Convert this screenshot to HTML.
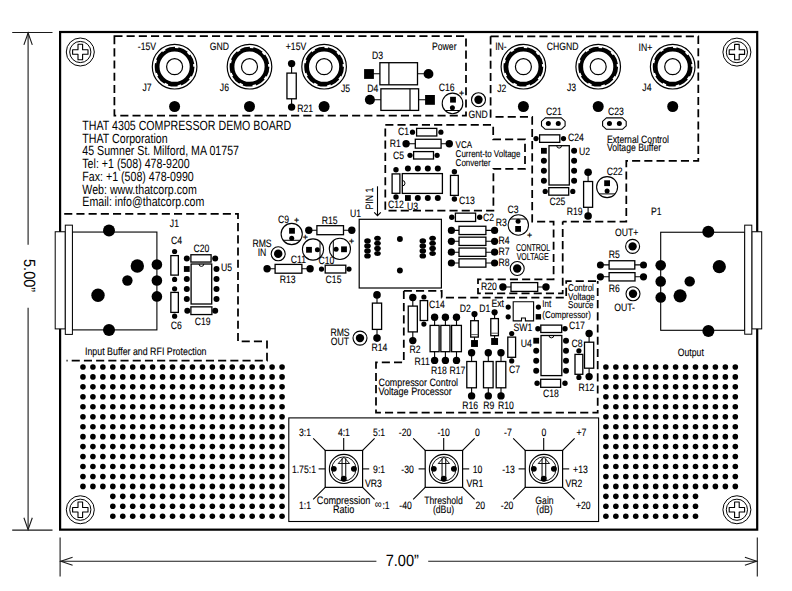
<!DOCTYPE html>
<html><head><meta charset="utf-8"><title>THAT 4305 Compressor Demo Board</title>
<style>
html,body{margin:0;padding:0;background:#fff;}
svg{display:block;font-family:"Liberation Sans",Arial,sans-serif;text-rendering:geometricPrecision;}
</style></head><body>
<svg width="792" height="591" viewBox="0 0 792 591">
<rect width="792" height="591" fill="#fff"/>
<rect x="60.1" y="32.0" width="697.1" height="497.65" fill="#fff" stroke="#000" stroke-width="2.2"/>
<line x1="28.10" y1="33.00" x2="28.10" y2="244.80" stroke="#1a1a1a" stroke-width="1.1"/>
<line x1="28.10" y1="307.70" x2="28.10" y2="529.50" stroke="#1a1a1a" stroke-width="1.1"/>
<line x1="12.20" y1="32.50" x2="52.50" y2="32.50" stroke="#1a1a1a" stroke-width="1.1"/>
<line x1="12.20" y1="530.10" x2="52.50" y2="530.10" stroke="#1a1a1a" stroke-width="1.1"/>
<path d="M23.9,44.9 L28.1,33 L32.3,44.9 M23.9,517.8 L28.1,529.6 L32.3,517.8" fill="none" stroke="#1a1a1a" stroke-width="1.1"/>
<line x1="60.10" y1="537.40" x2="60.10" y2="576.60" stroke="#1a1a1a" stroke-width="1.1"/>
<line x1="757.30" y1="537.40" x2="757.30" y2="576.60" stroke="#1a1a1a" stroke-width="1.1"/>
<line x1="60.20" y1="561.20" x2="376.40" y2="561.20" stroke="#1a1a1a" stroke-width="1.1"/>
<line x1="428.20" y1="561.20" x2="757.30" y2="561.20" stroke="#1a1a1a" stroke-width="1.1"/>
<path d="M72.6,557.2 L60.8,561.2 L72.6,565.3 M744.9,557.2 L756.7,561.2 L744.9,565.3" fill="none" stroke="#1a1a1a" stroke-width="1.1"/>
<text transform="translate(385.70,565.60) scale(0.9,1)" font-size="16.2" text-anchor="start" fill="#000">7.00”</text>
<text transform="translate(23.50,259.00) rotate(90) scale(0.9,1)" font-size="16.2" text-anchor="start" fill="#000">5.00”</text>
<circle cx="80.30" cy="52.00" r="14.00" fill="#fff" stroke="#000" stroke-width="1.0"/>
<circle cx="80.30" cy="52.00" r="10.60" fill="none" stroke="#000" stroke-width="1.0"/>
<path d="M78.0,44.3 H82.6 V49.7 H88.0 V54.3 H82.6 V59.7 H78.0 V54.3 H72.6 V49.7 H78.0 Z" fill="#fff" stroke="#000" stroke-width="1.1" stroke-linejoin="round"/>
<circle cx="736.90" cy="52.10" r="14.00" fill="#fff" stroke="#000" stroke-width="1.0"/>
<circle cx="736.90" cy="52.10" r="10.60" fill="none" stroke="#000" stroke-width="1.0"/>
<path d="M734.6,44.4 H739.1999999999999 V49.800000000000004 H744.6 V54.4 H739.1999999999999 V59.800000000000004 H734.6 V54.4 H729.1999999999999 V49.800000000000004 H734.6 Z" fill="#fff" stroke="#000" stroke-width="1.1" stroke-linejoin="round"/>
<circle cx="80.30" cy="509.75" r="14.00" fill="#fff" stroke="#000" stroke-width="1.0"/>
<circle cx="80.30" cy="509.75" r="10.60" fill="none" stroke="#000" stroke-width="1.0"/>
<path d="M78.0,502.05 H82.6 V507.45 H88.0 V512.05 H82.6 V517.45 H78.0 V512.05 H72.6 V507.45 H78.0 Z" fill="#fff" stroke="#000" stroke-width="1.1" stroke-linejoin="round"/>
<circle cx="736.90" cy="509.75" r="14.00" fill="#fff" stroke="#000" stroke-width="1.0"/>
<circle cx="736.90" cy="509.75" r="10.60" fill="none" stroke="#000" stroke-width="1.0"/>
<path d="M734.6,502.05 H739.1999999999999 V507.45 H744.6 V512.05 H739.1999999999999 V517.45 H734.6 V512.05 H729.1999999999999 V507.45 H734.6 Z" fill="#fff" stroke="#000" stroke-width="1.1" stroke-linejoin="round"/>
<circle cx="82.95" cy="366.95" r="2.80" fill="#000"/>
<circle cx="92.91" cy="366.95" r="2.80" fill="#000"/>
<circle cx="102.86" cy="366.95" r="2.80" fill="#000"/>
<circle cx="112.81" cy="366.95" r="2.80" fill="#000"/>
<circle cx="122.77" cy="366.95" r="2.80" fill="#000"/>
<circle cx="132.72" cy="366.95" r="2.80" fill="#000"/>
<circle cx="142.68" cy="366.95" r="2.80" fill="#000"/>
<circle cx="152.63" cy="366.95" r="2.80" fill="#000"/>
<circle cx="162.59" cy="366.95" r="2.80" fill="#000"/>
<circle cx="172.55" cy="366.95" r="2.80" fill="#000"/>
<circle cx="182.50" cy="366.95" r="2.80" fill="#000"/>
<circle cx="192.45" cy="366.95" r="2.80" fill="#000"/>
<circle cx="202.41" cy="366.95" r="2.80" fill="#000"/>
<circle cx="212.37" cy="366.95" r="2.80" fill="#000"/>
<circle cx="222.32" cy="366.95" r="2.80" fill="#000"/>
<circle cx="232.27" cy="366.95" r="2.80" fill="#000"/>
<circle cx="242.23" cy="366.95" r="2.80" fill="#000"/>
<circle cx="252.19" cy="366.95" r="2.80" fill="#000"/>
<circle cx="262.14" cy="366.95" r="2.80" fill="#000"/>
<circle cx="272.10" cy="366.95" r="2.80" fill="#000"/>
<circle cx="282.05" cy="366.95" r="2.80" fill="#000"/>
<circle cx="605.90" cy="366.95" r="2.80" fill="#000"/>
<circle cx="615.86" cy="366.95" r="2.80" fill="#000"/>
<circle cx="625.81" cy="366.95" r="2.80" fill="#000"/>
<circle cx="635.76" cy="366.95" r="2.80" fill="#000"/>
<circle cx="645.72" cy="366.95" r="2.80" fill="#000"/>
<circle cx="655.67" cy="366.95" r="2.80" fill="#000"/>
<circle cx="665.63" cy="366.95" r="2.80" fill="#000"/>
<circle cx="675.59" cy="366.95" r="2.80" fill="#000"/>
<circle cx="685.54" cy="366.95" r="2.80" fill="#000"/>
<circle cx="695.50" cy="366.95" r="2.80" fill="#000"/>
<circle cx="705.45" cy="366.95" r="2.80" fill="#000"/>
<circle cx="715.40" cy="366.95" r="2.80" fill="#000"/>
<circle cx="725.36" cy="366.95" r="2.80" fill="#000"/>
<circle cx="735.31" cy="366.95" r="2.80" fill="#000"/>
<circle cx="82.95" cy="376.90" r="2.80" fill="#000"/>
<circle cx="92.91" cy="376.90" r="2.80" fill="#000"/>
<circle cx="102.86" cy="376.90" r="2.80" fill="#000"/>
<circle cx="112.81" cy="376.90" r="2.80" fill="#000"/>
<circle cx="122.77" cy="376.90" r="2.80" fill="#000"/>
<circle cx="132.72" cy="376.90" r="2.80" fill="#000"/>
<circle cx="142.68" cy="376.90" r="2.80" fill="#000"/>
<circle cx="152.63" cy="376.90" r="2.80" fill="#000"/>
<circle cx="162.59" cy="376.90" r="2.80" fill="#000"/>
<circle cx="172.55" cy="376.90" r="2.80" fill="#000"/>
<circle cx="182.50" cy="376.90" r="2.80" fill="#000"/>
<circle cx="192.45" cy="376.90" r="2.80" fill="#000"/>
<circle cx="202.41" cy="376.90" r="2.80" fill="#000"/>
<circle cx="212.37" cy="376.90" r="2.80" fill="#000"/>
<circle cx="222.32" cy="376.90" r="2.80" fill="#000"/>
<circle cx="232.27" cy="376.90" r="2.80" fill="#000"/>
<circle cx="242.23" cy="376.90" r="2.80" fill="#000"/>
<circle cx="252.19" cy="376.90" r="2.80" fill="#000"/>
<circle cx="262.14" cy="376.90" r="2.80" fill="#000"/>
<circle cx="272.10" cy="376.90" r="2.80" fill="#000"/>
<circle cx="282.05" cy="376.90" r="2.80" fill="#000"/>
<circle cx="605.90" cy="376.90" r="2.80" fill="#000"/>
<circle cx="615.86" cy="376.90" r="2.80" fill="#000"/>
<circle cx="625.81" cy="376.90" r="2.80" fill="#000"/>
<circle cx="635.76" cy="376.90" r="2.80" fill="#000"/>
<circle cx="645.72" cy="376.90" r="2.80" fill="#000"/>
<circle cx="655.67" cy="376.90" r="2.80" fill="#000"/>
<circle cx="665.63" cy="376.90" r="2.80" fill="#000"/>
<circle cx="675.59" cy="376.90" r="2.80" fill="#000"/>
<circle cx="685.54" cy="376.90" r="2.80" fill="#000"/>
<circle cx="695.50" cy="376.90" r="2.80" fill="#000"/>
<circle cx="705.45" cy="376.90" r="2.80" fill="#000"/>
<circle cx="715.40" cy="376.90" r="2.80" fill="#000"/>
<circle cx="725.36" cy="376.90" r="2.80" fill="#000"/>
<circle cx="735.31" cy="376.90" r="2.80" fill="#000"/>
<circle cx="82.95" cy="386.86" r="2.80" fill="#000"/>
<circle cx="92.91" cy="386.86" r="2.80" fill="#000"/>
<circle cx="102.86" cy="386.86" r="2.80" fill="#000"/>
<circle cx="112.81" cy="386.86" r="2.80" fill="#000"/>
<circle cx="122.77" cy="386.86" r="2.80" fill="#000"/>
<circle cx="132.72" cy="386.86" r="2.80" fill="#000"/>
<circle cx="142.68" cy="386.86" r="2.80" fill="#000"/>
<circle cx="152.63" cy="386.86" r="2.80" fill="#000"/>
<circle cx="162.59" cy="386.86" r="2.80" fill="#000"/>
<circle cx="172.55" cy="386.86" r="2.80" fill="#000"/>
<circle cx="182.50" cy="386.86" r="2.80" fill="#000"/>
<circle cx="192.45" cy="386.86" r="2.80" fill="#000"/>
<circle cx="202.41" cy="386.86" r="2.80" fill="#000"/>
<circle cx="212.37" cy="386.86" r="2.80" fill="#000"/>
<circle cx="222.32" cy="386.86" r="2.80" fill="#000"/>
<circle cx="232.27" cy="386.86" r="2.80" fill="#000"/>
<circle cx="242.23" cy="386.86" r="2.80" fill="#000"/>
<circle cx="252.19" cy="386.86" r="2.80" fill="#000"/>
<circle cx="262.14" cy="386.86" r="2.80" fill="#000"/>
<circle cx="272.10" cy="386.86" r="2.80" fill="#000"/>
<circle cx="282.05" cy="386.86" r="2.80" fill="#000"/>
<circle cx="605.90" cy="386.86" r="2.80" fill="#000"/>
<circle cx="615.86" cy="386.86" r="2.80" fill="#000"/>
<circle cx="625.81" cy="386.86" r="2.80" fill="#000"/>
<circle cx="635.76" cy="386.86" r="2.80" fill="#000"/>
<circle cx="645.72" cy="386.86" r="2.80" fill="#000"/>
<circle cx="655.67" cy="386.86" r="2.80" fill="#000"/>
<circle cx="665.63" cy="386.86" r="2.80" fill="#000"/>
<circle cx="675.59" cy="386.86" r="2.80" fill="#000"/>
<circle cx="685.54" cy="386.86" r="2.80" fill="#000"/>
<circle cx="695.50" cy="386.86" r="2.80" fill="#000"/>
<circle cx="705.45" cy="386.86" r="2.80" fill="#000"/>
<circle cx="715.40" cy="386.86" r="2.80" fill="#000"/>
<circle cx="725.36" cy="386.86" r="2.80" fill="#000"/>
<circle cx="735.31" cy="386.86" r="2.80" fill="#000"/>
<circle cx="82.95" cy="396.81" r="2.80" fill="#000"/>
<circle cx="92.91" cy="396.81" r="2.80" fill="#000"/>
<circle cx="102.86" cy="396.81" r="2.80" fill="#000"/>
<circle cx="112.81" cy="396.81" r="2.80" fill="#000"/>
<circle cx="122.77" cy="396.81" r="2.80" fill="#000"/>
<circle cx="132.72" cy="396.81" r="2.80" fill="#000"/>
<circle cx="142.68" cy="396.81" r="2.80" fill="#000"/>
<circle cx="152.63" cy="396.81" r="2.80" fill="#000"/>
<circle cx="162.59" cy="396.81" r="2.80" fill="#000"/>
<circle cx="172.55" cy="396.81" r="2.80" fill="#000"/>
<circle cx="182.50" cy="396.81" r="2.80" fill="#000"/>
<circle cx="192.45" cy="396.81" r="2.80" fill="#000"/>
<circle cx="202.41" cy="396.81" r="2.80" fill="#000"/>
<circle cx="212.37" cy="396.81" r="2.80" fill="#000"/>
<circle cx="222.32" cy="396.81" r="2.80" fill="#000"/>
<circle cx="232.27" cy="396.81" r="2.80" fill="#000"/>
<circle cx="242.23" cy="396.81" r="2.80" fill="#000"/>
<circle cx="252.19" cy="396.81" r="2.80" fill="#000"/>
<circle cx="262.14" cy="396.81" r="2.80" fill="#000"/>
<circle cx="272.10" cy="396.81" r="2.80" fill="#000"/>
<circle cx="282.05" cy="396.81" r="2.80" fill="#000"/>
<circle cx="605.90" cy="396.81" r="2.80" fill="#000"/>
<circle cx="615.86" cy="396.81" r="2.80" fill="#000"/>
<circle cx="625.81" cy="396.81" r="2.80" fill="#000"/>
<circle cx="635.76" cy="396.81" r="2.80" fill="#000"/>
<circle cx="645.72" cy="396.81" r="2.80" fill="#000"/>
<circle cx="655.67" cy="396.81" r="2.80" fill="#000"/>
<circle cx="665.63" cy="396.81" r="2.80" fill="#000"/>
<circle cx="675.59" cy="396.81" r="2.80" fill="#000"/>
<circle cx="685.54" cy="396.81" r="2.80" fill="#000"/>
<circle cx="695.50" cy="396.81" r="2.80" fill="#000"/>
<circle cx="705.45" cy="396.81" r="2.80" fill="#000"/>
<circle cx="715.40" cy="396.81" r="2.80" fill="#000"/>
<circle cx="725.36" cy="396.81" r="2.80" fill="#000"/>
<circle cx="735.31" cy="396.81" r="2.80" fill="#000"/>
<circle cx="82.95" cy="406.77" r="2.80" fill="#000"/>
<circle cx="92.91" cy="406.77" r="2.80" fill="#000"/>
<circle cx="102.86" cy="406.77" r="2.80" fill="#000"/>
<circle cx="112.81" cy="406.77" r="2.80" fill="#000"/>
<circle cx="122.77" cy="406.77" r="2.80" fill="#000"/>
<circle cx="132.72" cy="406.77" r="2.80" fill="#000"/>
<circle cx="142.68" cy="406.77" r="2.80" fill="#000"/>
<circle cx="152.63" cy="406.77" r="2.80" fill="#000"/>
<circle cx="162.59" cy="406.77" r="2.80" fill="#000"/>
<circle cx="172.55" cy="406.77" r="2.80" fill="#000"/>
<circle cx="182.50" cy="406.77" r="2.80" fill="#000"/>
<circle cx="192.45" cy="406.77" r="2.80" fill="#000"/>
<circle cx="202.41" cy="406.77" r="2.80" fill="#000"/>
<circle cx="212.37" cy="406.77" r="2.80" fill="#000"/>
<circle cx="222.32" cy="406.77" r="2.80" fill="#000"/>
<circle cx="232.27" cy="406.77" r="2.80" fill="#000"/>
<circle cx="242.23" cy="406.77" r="2.80" fill="#000"/>
<circle cx="252.19" cy="406.77" r="2.80" fill="#000"/>
<circle cx="262.14" cy="406.77" r="2.80" fill="#000"/>
<circle cx="272.10" cy="406.77" r="2.80" fill="#000"/>
<circle cx="282.05" cy="406.77" r="2.80" fill="#000"/>
<circle cx="605.90" cy="406.77" r="2.80" fill="#000"/>
<circle cx="615.86" cy="406.77" r="2.80" fill="#000"/>
<circle cx="625.81" cy="406.77" r="2.80" fill="#000"/>
<circle cx="635.76" cy="406.77" r="2.80" fill="#000"/>
<circle cx="645.72" cy="406.77" r="2.80" fill="#000"/>
<circle cx="655.67" cy="406.77" r="2.80" fill="#000"/>
<circle cx="665.63" cy="406.77" r="2.80" fill="#000"/>
<circle cx="675.59" cy="406.77" r="2.80" fill="#000"/>
<circle cx="685.54" cy="406.77" r="2.80" fill="#000"/>
<circle cx="695.50" cy="406.77" r="2.80" fill="#000"/>
<circle cx="705.45" cy="406.77" r="2.80" fill="#000"/>
<circle cx="715.40" cy="406.77" r="2.80" fill="#000"/>
<circle cx="725.36" cy="406.77" r="2.80" fill="#000"/>
<circle cx="735.31" cy="406.77" r="2.80" fill="#000"/>
<circle cx="82.95" cy="416.72" r="2.80" fill="#000"/>
<circle cx="92.91" cy="416.72" r="2.80" fill="#000"/>
<circle cx="102.86" cy="416.72" r="2.80" fill="#000"/>
<circle cx="112.81" cy="416.72" r="2.80" fill="#000"/>
<circle cx="122.77" cy="416.72" r="2.80" fill="#000"/>
<circle cx="132.72" cy="416.72" r="2.80" fill="#000"/>
<circle cx="142.68" cy="416.72" r="2.80" fill="#000"/>
<circle cx="152.63" cy="416.72" r="2.80" fill="#000"/>
<circle cx="162.59" cy="416.72" r="2.80" fill="#000"/>
<circle cx="172.55" cy="416.72" r="2.80" fill="#000"/>
<circle cx="182.50" cy="416.72" r="2.80" fill="#000"/>
<circle cx="192.45" cy="416.72" r="2.80" fill="#000"/>
<circle cx="202.41" cy="416.72" r="2.80" fill="#000"/>
<circle cx="212.37" cy="416.72" r="2.80" fill="#000"/>
<circle cx="222.32" cy="416.72" r="2.80" fill="#000"/>
<circle cx="232.27" cy="416.72" r="2.80" fill="#000"/>
<circle cx="242.23" cy="416.72" r="2.80" fill="#000"/>
<circle cx="252.19" cy="416.72" r="2.80" fill="#000"/>
<circle cx="262.14" cy="416.72" r="2.80" fill="#000"/>
<circle cx="272.10" cy="416.72" r="2.80" fill="#000"/>
<circle cx="282.05" cy="416.72" r="2.80" fill="#000"/>
<circle cx="605.90" cy="416.72" r="2.80" fill="#000"/>
<circle cx="615.86" cy="416.72" r="2.80" fill="#000"/>
<circle cx="625.81" cy="416.72" r="2.80" fill="#000"/>
<circle cx="635.76" cy="416.72" r="2.80" fill="#000"/>
<circle cx="645.72" cy="416.72" r="2.80" fill="#000"/>
<circle cx="655.67" cy="416.72" r="2.80" fill="#000"/>
<circle cx="665.63" cy="416.72" r="2.80" fill="#000"/>
<circle cx="675.59" cy="416.72" r="2.80" fill="#000"/>
<circle cx="685.54" cy="416.72" r="2.80" fill="#000"/>
<circle cx="695.50" cy="416.72" r="2.80" fill="#000"/>
<circle cx="705.45" cy="416.72" r="2.80" fill="#000"/>
<circle cx="715.40" cy="416.72" r="2.80" fill="#000"/>
<circle cx="725.36" cy="416.72" r="2.80" fill="#000"/>
<circle cx="735.31" cy="416.72" r="2.80" fill="#000"/>
<circle cx="82.95" cy="426.68" r="2.80" fill="#000"/>
<circle cx="92.91" cy="426.68" r="2.80" fill="#000"/>
<circle cx="102.86" cy="426.68" r="2.80" fill="#000"/>
<circle cx="112.81" cy="426.68" r="2.80" fill="#000"/>
<circle cx="122.77" cy="426.68" r="2.80" fill="#000"/>
<circle cx="132.72" cy="426.68" r="2.80" fill="#000"/>
<circle cx="142.68" cy="426.68" r="2.80" fill="#000"/>
<circle cx="152.63" cy="426.68" r="2.80" fill="#000"/>
<circle cx="162.59" cy="426.68" r="2.80" fill="#000"/>
<circle cx="172.55" cy="426.68" r="2.80" fill="#000"/>
<circle cx="182.50" cy="426.68" r="2.80" fill="#000"/>
<circle cx="192.45" cy="426.68" r="2.80" fill="#000"/>
<circle cx="202.41" cy="426.68" r="2.80" fill="#000"/>
<circle cx="212.37" cy="426.68" r="2.80" fill="#000"/>
<circle cx="222.32" cy="426.68" r="2.80" fill="#000"/>
<circle cx="232.27" cy="426.68" r="2.80" fill="#000"/>
<circle cx="242.23" cy="426.68" r="2.80" fill="#000"/>
<circle cx="252.19" cy="426.68" r="2.80" fill="#000"/>
<circle cx="262.14" cy="426.68" r="2.80" fill="#000"/>
<circle cx="272.10" cy="426.68" r="2.80" fill="#000"/>
<circle cx="282.05" cy="426.68" r="2.80" fill="#000"/>
<circle cx="605.90" cy="426.68" r="2.80" fill="#000"/>
<circle cx="615.86" cy="426.68" r="2.80" fill="#000"/>
<circle cx="625.81" cy="426.68" r="2.80" fill="#000"/>
<circle cx="635.76" cy="426.68" r="2.80" fill="#000"/>
<circle cx="645.72" cy="426.68" r="2.80" fill="#000"/>
<circle cx="655.67" cy="426.68" r="2.80" fill="#000"/>
<circle cx="665.63" cy="426.68" r="2.80" fill="#000"/>
<circle cx="675.59" cy="426.68" r="2.80" fill="#000"/>
<circle cx="685.54" cy="426.68" r="2.80" fill="#000"/>
<circle cx="695.50" cy="426.68" r="2.80" fill="#000"/>
<circle cx="705.45" cy="426.68" r="2.80" fill="#000"/>
<circle cx="715.40" cy="426.68" r="2.80" fill="#000"/>
<circle cx="725.36" cy="426.68" r="2.80" fill="#000"/>
<circle cx="735.31" cy="426.68" r="2.80" fill="#000"/>
<circle cx="82.95" cy="436.63" r="2.80" fill="#000"/>
<circle cx="92.91" cy="436.63" r="2.80" fill="#000"/>
<circle cx="102.86" cy="436.63" r="2.80" fill="#000"/>
<circle cx="112.81" cy="436.63" r="2.80" fill="#000"/>
<circle cx="122.77" cy="436.63" r="2.80" fill="#000"/>
<circle cx="132.72" cy="436.63" r="2.80" fill="#000"/>
<circle cx="142.68" cy="436.63" r="2.80" fill="#000"/>
<circle cx="152.63" cy="436.63" r="2.80" fill="#000"/>
<circle cx="162.59" cy="436.63" r="2.80" fill="#000"/>
<circle cx="172.55" cy="436.63" r="2.80" fill="#000"/>
<circle cx="182.50" cy="436.63" r="2.80" fill="#000"/>
<circle cx="192.45" cy="436.63" r="2.80" fill="#000"/>
<circle cx="202.41" cy="436.63" r="2.80" fill="#000"/>
<circle cx="212.37" cy="436.63" r="2.80" fill="#000"/>
<circle cx="222.32" cy="436.63" r="2.80" fill="#000"/>
<circle cx="232.27" cy="436.63" r="2.80" fill="#000"/>
<circle cx="242.23" cy="436.63" r="2.80" fill="#000"/>
<circle cx="252.19" cy="436.63" r="2.80" fill="#000"/>
<circle cx="262.14" cy="436.63" r="2.80" fill="#000"/>
<circle cx="272.10" cy="436.63" r="2.80" fill="#000"/>
<circle cx="282.05" cy="436.63" r="2.80" fill="#000"/>
<circle cx="605.90" cy="436.63" r="2.80" fill="#000"/>
<circle cx="615.86" cy="436.63" r="2.80" fill="#000"/>
<circle cx="625.81" cy="436.63" r="2.80" fill="#000"/>
<circle cx="635.76" cy="436.63" r="2.80" fill="#000"/>
<circle cx="645.72" cy="436.63" r="2.80" fill="#000"/>
<circle cx="655.67" cy="436.63" r="2.80" fill="#000"/>
<circle cx="665.63" cy="436.63" r="2.80" fill="#000"/>
<circle cx="675.59" cy="436.63" r="2.80" fill="#000"/>
<circle cx="685.54" cy="436.63" r="2.80" fill="#000"/>
<circle cx="695.50" cy="436.63" r="2.80" fill="#000"/>
<circle cx="705.45" cy="436.63" r="2.80" fill="#000"/>
<circle cx="715.40" cy="436.63" r="2.80" fill="#000"/>
<circle cx="725.36" cy="436.63" r="2.80" fill="#000"/>
<circle cx="735.31" cy="436.63" r="2.80" fill="#000"/>
<circle cx="82.95" cy="446.59" r="2.80" fill="#000"/>
<circle cx="92.91" cy="446.59" r="2.80" fill="#000"/>
<circle cx="102.86" cy="446.59" r="2.80" fill="#000"/>
<circle cx="112.81" cy="446.59" r="2.80" fill="#000"/>
<circle cx="122.77" cy="446.59" r="2.80" fill="#000"/>
<circle cx="132.72" cy="446.59" r="2.80" fill="#000"/>
<circle cx="142.68" cy="446.59" r="2.80" fill="#000"/>
<circle cx="152.63" cy="446.59" r="2.80" fill="#000"/>
<circle cx="162.59" cy="446.59" r="2.80" fill="#000"/>
<circle cx="172.55" cy="446.59" r="2.80" fill="#000"/>
<circle cx="182.50" cy="446.59" r="2.80" fill="#000"/>
<circle cx="192.45" cy="446.59" r="2.80" fill="#000"/>
<circle cx="202.41" cy="446.59" r="2.80" fill="#000"/>
<circle cx="212.37" cy="446.59" r="2.80" fill="#000"/>
<circle cx="222.32" cy="446.59" r="2.80" fill="#000"/>
<circle cx="232.27" cy="446.59" r="2.80" fill="#000"/>
<circle cx="242.23" cy="446.59" r="2.80" fill="#000"/>
<circle cx="252.19" cy="446.59" r="2.80" fill="#000"/>
<circle cx="262.14" cy="446.59" r="2.80" fill="#000"/>
<circle cx="272.10" cy="446.59" r="2.80" fill="#000"/>
<circle cx="282.05" cy="446.59" r="2.80" fill="#000"/>
<circle cx="605.90" cy="446.59" r="2.80" fill="#000"/>
<circle cx="615.86" cy="446.59" r="2.80" fill="#000"/>
<circle cx="625.81" cy="446.59" r="2.80" fill="#000"/>
<circle cx="635.76" cy="446.59" r="2.80" fill="#000"/>
<circle cx="645.72" cy="446.59" r="2.80" fill="#000"/>
<circle cx="655.67" cy="446.59" r="2.80" fill="#000"/>
<circle cx="665.63" cy="446.59" r="2.80" fill="#000"/>
<circle cx="675.59" cy="446.59" r="2.80" fill="#000"/>
<circle cx="685.54" cy="446.59" r="2.80" fill="#000"/>
<circle cx="695.50" cy="446.59" r="2.80" fill="#000"/>
<circle cx="705.45" cy="446.59" r="2.80" fill="#000"/>
<circle cx="715.40" cy="446.59" r="2.80" fill="#000"/>
<circle cx="725.36" cy="446.59" r="2.80" fill="#000"/>
<circle cx="735.31" cy="446.59" r="2.80" fill="#000"/>
<circle cx="82.95" cy="456.54" r="2.80" fill="#000"/>
<circle cx="92.91" cy="456.54" r="2.80" fill="#000"/>
<circle cx="102.86" cy="456.54" r="2.80" fill="#000"/>
<circle cx="112.81" cy="456.54" r="2.80" fill="#000"/>
<circle cx="122.77" cy="456.54" r="2.80" fill="#000"/>
<circle cx="132.72" cy="456.54" r="2.80" fill="#000"/>
<circle cx="142.68" cy="456.54" r="2.80" fill="#000"/>
<circle cx="152.63" cy="456.54" r="2.80" fill="#000"/>
<circle cx="162.59" cy="456.54" r="2.80" fill="#000"/>
<circle cx="172.55" cy="456.54" r="2.80" fill="#000"/>
<circle cx="182.50" cy="456.54" r="2.80" fill="#000"/>
<circle cx="192.45" cy="456.54" r="2.80" fill="#000"/>
<circle cx="202.41" cy="456.54" r="2.80" fill="#000"/>
<circle cx="212.37" cy="456.54" r="2.80" fill="#000"/>
<circle cx="222.32" cy="456.54" r="2.80" fill="#000"/>
<circle cx="232.27" cy="456.54" r="2.80" fill="#000"/>
<circle cx="242.23" cy="456.54" r="2.80" fill="#000"/>
<circle cx="252.19" cy="456.54" r="2.80" fill="#000"/>
<circle cx="262.14" cy="456.54" r="2.80" fill="#000"/>
<circle cx="272.10" cy="456.54" r="2.80" fill="#000"/>
<circle cx="282.05" cy="456.54" r="2.80" fill="#000"/>
<circle cx="605.90" cy="456.54" r="2.80" fill="#000"/>
<circle cx="615.86" cy="456.54" r="2.80" fill="#000"/>
<circle cx="625.81" cy="456.54" r="2.80" fill="#000"/>
<circle cx="635.76" cy="456.54" r="2.80" fill="#000"/>
<circle cx="645.72" cy="456.54" r="2.80" fill="#000"/>
<circle cx="655.67" cy="456.54" r="2.80" fill="#000"/>
<circle cx="665.63" cy="456.54" r="2.80" fill="#000"/>
<circle cx="675.59" cy="456.54" r="2.80" fill="#000"/>
<circle cx="685.54" cy="456.54" r="2.80" fill="#000"/>
<circle cx="695.50" cy="456.54" r="2.80" fill="#000"/>
<circle cx="705.45" cy="456.54" r="2.80" fill="#000"/>
<circle cx="715.40" cy="456.54" r="2.80" fill="#000"/>
<circle cx="725.36" cy="456.54" r="2.80" fill="#000"/>
<circle cx="735.31" cy="456.54" r="2.80" fill="#000"/>
<circle cx="82.95" cy="466.50" r="2.80" fill="#000"/>
<circle cx="92.91" cy="466.50" r="2.80" fill="#000"/>
<circle cx="102.86" cy="466.50" r="2.80" fill="#000"/>
<circle cx="112.81" cy="466.50" r="2.80" fill="#000"/>
<circle cx="122.77" cy="466.50" r="2.80" fill="#000"/>
<circle cx="132.72" cy="466.50" r="2.80" fill="#000"/>
<circle cx="142.68" cy="466.50" r="2.80" fill="#000"/>
<circle cx="152.63" cy="466.50" r="2.80" fill="#000"/>
<circle cx="162.59" cy="466.50" r="2.80" fill="#000"/>
<circle cx="172.55" cy="466.50" r="2.80" fill="#000"/>
<circle cx="182.50" cy="466.50" r="2.80" fill="#000"/>
<circle cx="192.45" cy="466.50" r="2.80" fill="#000"/>
<circle cx="202.41" cy="466.50" r="2.80" fill="#000"/>
<circle cx="212.37" cy="466.50" r="2.80" fill="#000"/>
<circle cx="222.32" cy="466.50" r="2.80" fill="#000"/>
<circle cx="232.27" cy="466.50" r="2.80" fill="#000"/>
<circle cx="242.23" cy="466.50" r="2.80" fill="#000"/>
<circle cx="252.19" cy="466.50" r="2.80" fill="#000"/>
<circle cx="262.14" cy="466.50" r="2.80" fill="#000"/>
<circle cx="272.10" cy="466.50" r="2.80" fill="#000"/>
<circle cx="282.05" cy="466.50" r="2.80" fill="#000"/>
<circle cx="605.90" cy="466.50" r="2.80" fill="#000"/>
<circle cx="615.86" cy="466.50" r="2.80" fill="#000"/>
<circle cx="625.81" cy="466.50" r="2.80" fill="#000"/>
<circle cx="635.76" cy="466.50" r="2.80" fill="#000"/>
<circle cx="645.72" cy="466.50" r="2.80" fill="#000"/>
<circle cx="655.67" cy="466.50" r="2.80" fill="#000"/>
<circle cx="665.63" cy="466.50" r="2.80" fill="#000"/>
<circle cx="675.59" cy="466.50" r="2.80" fill="#000"/>
<circle cx="685.54" cy="466.50" r="2.80" fill="#000"/>
<circle cx="695.50" cy="466.50" r="2.80" fill="#000"/>
<circle cx="705.45" cy="466.50" r="2.80" fill="#000"/>
<circle cx="715.40" cy="466.50" r="2.80" fill="#000"/>
<circle cx="725.36" cy="466.50" r="2.80" fill="#000"/>
<circle cx="735.31" cy="466.50" r="2.80" fill="#000"/>
<circle cx="82.95" cy="476.45" r="2.80" fill="#000"/>
<circle cx="92.91" cy="476.45" r="2.80" fill="#000"/>
<circle cx="102.86" cy="476.45" r="2.80" fill="#000"/>
<circle cx="112.81" cy="476.45" r="2.80" fill="#000"/>
<circle cx="122.77" cy="476.45" r="2.80" fill="#000"/>
<circle cx="132.72" cy="476.45" r="2.80" fill="#000"/>
<circle cx="142.68" cy="476.45" r="2.80" fill="#000"/>
<circle cx="152.63" cy="476.45" r="2.80" fill="#000"/>
<circle cx="162.59" cy="476.45" r="2.80" fill="#000"/>
<circle cx="172.55" cy="476.45" r="2.80" fill="#000"/>
<circle cx="182.50" cy="476.45" r="2.80" fill="#000"/>
<circle cx="192.45" cy="476.45" r="2.80" fill="#000"/>
<circle cx="202.41" cy="476.45" r="2.80" fill="#000"/>
<circle cx="212.37" cy="476.45" r="2.80" fill="#000"/>
<circle cx="222.32" cy="476.45" r="2.80" fill="#000"/>
<circle cx="232.27" cy="476.45" r="2.80" fill="#000"/>
<circle cx="242.23" cy="476.45" r="2.80" fill="#000"/>
<circle cx="252.19" cy="476.45" r="2.80" fill="#000"/>
<circle cx="262.14" cy="476.45" r="2.80" fill="#000"/>
<circle cx="272.10" cy="476.45" r="2.80" fill="#000"/>
<circle cx="282.05" cy="476.45" r="2.80" fill="#000"/>
<circle cx="605.90" cy="476.45" r="2.80" fill="#000"/>
<circle cx="615.86" cy="476.45" r="2.80" fill="#000"/>
<circle cx="625.81" cy="476.45" r="2.80" fill="#000"/>
<circle cx="635.76" cy="476.45" r="2.80" fill="#000"/>
<circle cx="645.72" cy="476.45" r="2.80" fill="#000"/>
<circle cx="655.67" cy="476.45" r="2.80" fill="#000"/>
<circle cx="665.63" cy="476.45" r="2.80" fill="#000"/>
<circle cx="675.59" cy="476.45" r="2.80" fill="#000"/>
<circle cx="685.54" cy="476.45" r="2.80" fill="#000"/>
<circle cx="695.50" cy="476.45" r="2.80" fill="#000"/>
<circle cx="705.45" cy="476.45" r="2.80" fill="#000"/>
<circle cx="715.40" cy="476.45" r="2.80" fill="#000"/>
<circle cx="725.36" cy="476.45" r="2.80" fill="#000"/>
<circle cx="735.31" cy="476.45" r="2.80" fill="#000"/>
<circle cx="82.95" cy="486.41" r="2.80" fill="#000"/>
<circle cx="92.91" cy="486.41" r="2.80" fill="#000"/>
<circle cx="102.86" cy="486.41" r="2.80" fill="#000"/>
<circle cx="112.81" cy="486.41" r="2.80" fill="#000"/>
<circle cx="122.77" cy="486.41" r="2.80" fill="#000"/>
<circle cx="132.72" cy="486.41" r="2.80" fill="#000"/>
<circle cx="142.68" cy="486.41" r="2.80" fill="#000"/>
<circle cx="152.63" cy="486.41" r="2.80" fill="#000"/>
<circle cx="162.59" cy="486.41" r="2.80" fill="#000"/>
<circle cx="172.55" cy="486.41" r="2.80" fill="#000"/>
<circle cx="182.50" cy="486.41" r="2.80" fill="#000"/>
<circle cx="192.45" cy="486.41" r="2.80" fill="#000"/>
<circle cx="202.41" cy="486.41" r="2.80" fill="#000"/>
<circle cx="212.37" cy="486.41" r="2.80" fill="#000"/>
<circle cx="222.32" cy="486.41" r="2.80" fill="#000"/>
<circle cx="232.27" cy="486.41" r="2.80" fill="#000"/>
<circle cx="242.23" cy="486.41" r="2.80" fill="#000"/>
<circle cx="252.19" cy="486.41" r="2.80" fill="#000"/>
<circle cx="262.14" cy="486.41" r="2.80" fill="#000"/>
<circle cx="272.10" cy="486.41" r="2.80" fill="#000"/>
<circle cx="282.05" cy="486.41" r="2.80" fill="#000"/>
<circle cx="605.90" cy="486.41" r="2.80" fill="#000"/>
<circle cx="615.86" cy="486.41" r="2.80" fill="#000"/>
<circle cx="625.81" cy="486.41" r="2.80" fill="#000"/>
<circle cx="635.76" cy="486.41" r="2.80" fill="#000"/>
<circle cx="645.72" cy="486.41" r="2.80" fill="#000"/>
<circle cx="655.67" cy="486.41" r="2.80" fill="#000"/>
<circle cx="665.63" cy="486.41" r="2.80" fill="#000"/>
<circle cx="675.59" cy="486.41" r="2.80" fill="#000"/>
<circle cx="685.54" cy="486.41" r="2.80" fill="#000"/>
<circle cx="695.50" cy="486.41" r="2.80" fill="#000"/>
<circle cx="705.45" cy="486.41" r="2.80" fill="#000"/>
<circle cx="715.40" cy="486.41" r="2.80" fill="#000"/>
<circle cx="725.36" cy="486.41" r="2.80" fill="#000"/>
<circle cx="735.31" cy="486.41" r="2.80" fill="#000"/>
<circle cx="112.81" cy="496.37" r="2.80" fill="#000"/>
<circle cx="122.77" cy="496.37" r="2.80" fill="#000"/>
<circle cx="132.72" cy="496.37" r="2.80" fill="#000"/>
<circle cx="142.68" cy="496.37" r="2.80" fill="#000"/>
<circle cx="152.63" cy="496.37" r="2.80" fill="#000"/>
<circle cx="162.59" cy="496.37" r="2.80" fill="#000"/>
<circle cx="172.55" cy="496.37" r="2.80" fill="#000"/>
<circle cx="182.50" cy="496.37" r="2.80" fill="#000"/>
<circle cx="192.45" cy="496.37" r="2.80" fill="#000"/>
<circle cx="202.41" cy="496.37" r="2.80" fill="#000"/>
<circle cx="212.37" cy="496.37" r="2.80" fill="#000"/>
<circle cx="222.32" cy="496.37" r="2.80" fill="#000"/>
<circle cx="232.27" cy="496.37" r="2.80" fill="#000"/>
<circle cx="242.23" cy="496.37" r="2.80" fill="#000"/>
<circle cx="252.19" cy="496.37" r="2.80" fill="#000"/>
<circle cx="262.14" cy="496.37" r="2.80" fill="#000"/>
<circle cx="272.10" cy="496.37" r="2.80" fill="#000"/>
<circle cx="282.05" cy="496.37" r="2.80" fill="#000"/>
<circle cx="605.90" cy="496.37" r="2.80" fill="#000"/>
<circle cx="615.86" cy="496.37" r="2.80" fill="#000"/>
<circle cx="625.81" cy="496.37" r="2.80" fill="#000"/>
<circle cx="635.76" cy="496.37" r="2.80" fill="#000"/>
<circle cx="645.72" cy="496.37" r="2.80" fill="#000"/>
<circle cx="655.67" cy="496.37" r="2.80" fill="#000"/>
<circle cx="665.63" cy="496.37" r="2.80" fill="#000"/>
<circle cx="675.59" cy="496.37" r="2.80" fill="#000"/>
<circle cx="685.54" cy="496.37" r="2.80" fill="#000"/>
<circle cx="695.50" cy="496.37" r="2.80" fill="#000"/>
<circle cx="112.81" cy="506.32" r="2.80" fill="#000"/>
<circle cx="122.77" cy="506.32" r="2.80" fill="#000"/>
<circle cx="132.72" cy="506.32" r="2.80" fill="#000"/>
<circle cx="142.68" cy="506.32" r="2.80" fill="#000"/>
<circle cx="152.63" cy="506.32" r="2.80" fill="#000"/>
<circle cx="162.59" cy="506.32" r="2.80" fill="#000"/>
<circle cx="172.55" cy="506.32" r="2.80" fill="#000"/>
<circle cx="182.50" cy="506.32" r="2.80" fill="#000"/>
<circle cx="192.45" cy="506.32" r="2.80" fill="#000"/>
<circle cx="202.41" cy="506.32" r="2.80" fill="#000"/>
<circle cx="212.37" cy="506.32" r="2.80" fill="#000"/>
<circle cx="222.32" cy="506.32" r="2.80" fill="#000"/>
<circle cx="232.27" cy="506.32" r="2.80" fill="#000"/>
<circle cx="242.23" cy="506.32" r="2.80" fill="#000"/>
<circle cx="252.19" cy="506.32" r="2.80" fill="#000"/>
<circle cx="262.14" cy="506.32" r="2.80" fill="#000"/>
<circle cx="272.10" cy="506.32" r="2.80" fill="#000"/>
<circle cx="282.05" cy="506.32" r="2.80" fill="#000"/>
<circle cx="605.90" cy="506.32" r="2.80" fill="#000"/>
<circle cx="615.86" cy="506.32" r="2.80" fill="#000"/>
<circle cx="625.81" cy="506.32" r="2.80" fill="#000"/>
<circle cx="635.76" cy="506.32" r="2.80" fill="#000"/>
<circle cx="645.72" cy="506.32" r="2.80" fill="#000"/>
<circle cx="655.67" cy="506.32" r="2.80" fill="#000"/>
<circle cx="665.63" cy="506.32" r="2.80" fill="#000"/>
<circle cx="675.59" cy="506.32" r="2.80" fill="#000"/>
<circle cx="685.54" cy="506.32" r="2.80" fill="#000"/>
<circle cx="695.50" cy="506.32" r="2.80" fill="#000"/>
<circle cx="112.81" cy="516.27" r="2.80" fill="#000"/>
<circle cx="122.77" cy="516.27" r="2.80" fill="#000"/>
<circle cx="132.72" cy="516.27" r="2.80" fill="#000"/>
<circle cx="142.68" cy="516.27" r="2.80" fill="#000"/>
<circle cx="152.63" cy="516.27" r="2.80" fill="#000"/>
<circle cx="162.59" cy="516.27" r="2.80" fill="#000"/>
<circle cx="172.55" cy="516.27" r="2.80" fill="#000"/>
<circle cx="182.50" cy="516.27" r="2.80" fill="#000"/>
<circle cx="192.45" cy="516.27" r="2.80" fill="#000"/>
<circle cx="202.41" cy="516.27" r="2.80" fill="#000"/>
<circle cx="212.37" cy="516.27" r="2.80" fill="#000"/>
<circle cx="222.32" cy="516.27" r="2.80" fill="#000"/>
<circle cx="232.27" cy="516.27" r="2.80" fill="#000"/>
<circle cx="242.23" cy="516.27" r="2.80" fill="#000"/>
<circle cx="252.19" cy="516.27" r="2.80" fill="#000"/>
<circle cx="262.14" cy="516.27" r="2.80" fill="#000"/>
<circle cx="272.10" cy="516.27" r="2.80" fill="#000"/>
<circle cx="282.05" cy="516.27" r="2.80" fill="#000"/>
<circle cx="605.90" cy="516.27" r="2.80" fill="#000"/>
<circle cx="615.86" cy="516.27" r="2.80" fill="#000"/>
<circle cx="625.81" cy="516.27" r="2.80" fill="#000"/>
<circle cx="635.76" cy="516.27" r="2.80" fill="#000"/>
<circle cx="645.72" cy="516.27" r="2.80" fill="#000"/>
<circle cx="655.67" cy="516.27" r="2.80" fill="#000"/>
<circle cx="665.63" cy="516.27" r="2.80" fill="#000"/>
<circle cx="675.59" cy="516.27" r="2.80" fill="#000"/>
<circle cx="685.54" cy="516.27" r="2.80" fill="#000"/>
<circle cx="695.50" cy="516.27" r="2.80" fill="#000"/>
<path d="M114.40,36.20 L466.00,36.20 L466.00,115.60 L114.40,115.60 Z" fill="none" stroke="#000" stroke-width="1.75" stroke-dasharray="8.1 4.1" stroke-dashoffset="0"/>
<path d="M490.60,36.30 L698.30,36.30 L698.30,160.90 L626.30,160.90 L626.30,221.60 L562.70,221.60" fill="none" stroke="#000" stroke-width="1.75" stroke-dasharray="8.1 4.1" stroke-dashoffset="0"/>
<path d="M490.60,36.30 L490.60,116.80 L532.20,116.80 L532.20,221.60 L553.60,221.60 L553.60,279.30 L478.00,279.30 L478.00,293.40 L562.70,293.40 L562.70,221.60" fill="none" stroke="#000" stroke-width="1.75" stroke-dasharray="8.1 4.1" stroke-dashoffset="0"/>
<path d="M385.30,124.90 L493.20,124.90 L493.20,139.30 L525.00,139.30 L525.00,168.80 L493.40,168.80 L493.40,210.60 L385.30,210.60 Z" fill="none" stroke="#000" stroke-width="1.75" stroke-dasharray="8.1 4.1" stroke-dashoffset="0"/>
<path d="M64.20,213.90 L238.00,213.90 L238.00,341.40 L267.00,341.40 L267.00,360.70 L66.50,360.70" fill="none" stroke="#000" stroke-width="1.75" stroke-dasharray="8.1 4.1" stroke-dashoffset="0"/>
<path d="M403.80,290.90 L441.70,290.90 L441.70,297.60 L566.20,297.60 L566.20,281.00 L597.70,281.00" fill="none" stroke="#000" stroke-width="1.75" stroke-dasharray="8.1 4.1" stroke-dashoffset="0"/>
<path d="M403.80,290.90 L403.80,362.40 L376.00,362.40 L376.00,412.70 L597.70,412.70 L597.70,281.00" fill="none" stroke="#000" stroke-width="1.75" stroke-dasharray="8.1 4.1" stroke-dashoffset="0"/>
<circle cx="174.60" cy="66.70" r="22.30" fill="#fff" stroke="#000" stroke-width="1.2"/>
<circle cx="174.60" cy="66.70" r="16.90" fill="none" stroke="#000" stroke-width="3.6"/>
<circle cx="174.60" cy="66.70" r="19.0" fill="none" stroke="#000" stroke-width="1.8" stroke-dasharray="9.8 3.46"/>
<circle cx="174.60" cy="66.70" r="8.00" fill="none" stroke="#000" stroke-width="1.2"/>
<circle cx="174.60" cy="106.50" r="5.50" fill="#000"/>
<circle cx="249.50" cy="66.70" r="22.30" fill="#fff" stroke="#000" stroke-width="1.2"/>
<circle cx="249.50" cy="66.70" r="16.90" fill="none" stroke="#000" stroke-width="3.6"/>
<circle cx="249.50" cy="66.70" r="19.0" fill="none" stroke="#000" stroke-width="1.8" stroke-dasharray="9.8 3.46"/>
<circle cx="249.50" cy="66.70" r="8.00" fill="none" stroke="#000" stroke-width="1.2"/>
<circle cx="249.50" cy="106.50" r="5.50" fill="#000"/>
<circle cx="324.10" cy="66.70" r="22.30" fill="#fff" stroke="#000" stroke-width="1.2"/>
<circle cx="324.10" cy="66.70" r="16.90" fill="none" stroke="#000" stroke-width="3.6"/>
<circle cx="324.10" cy="66.70" r="19.0" fill="none" stroke="#000" stroke-width="1.8" stroke-dasharray="9.8 3.46"/>
<circle cx="324.10" cy="66.70" r="8.00" fill="none" stroke="#000" stroke-width="1.2"/>
<circle cx="324.10" cy="106.50" r="5.50" fill="#000"/>
<circle cx="523.40" cy="66.70" r="22.30" fill="#fff" stroke="#000" stroke-width="1.2"/>
<circle cx="523.40" cy="66.70" r="16.90" fill="none" stroke="#000" stroke-width="3.6"/>
<circle cx="523.40" cy="66.70" r="19.0" fill="none" stroke="#000" stroke-width="1.8" stroke-dasharray="9.8 3.46"/>
<circle cx="523.40" cy="66.70" r="8.00" fill="none" stroke="#000" stroke-width="1.2"/>
<circle cx="523.40" cy="106.50" r="5.50" fill="#000"/>
<circle cx="598.20" cy="66.70" r="22.30" fill="#fff" stroke="#000" stroke-width="1.2"/>
<circle cx="598.20" cy="66.70" r="16.90" fill="none" stroke="#000" stroke-width="3.6"/>
<circle cx="598.20" cy="66.70" r="19.0" fill="none" stroke="#000" stroke-width="1.8" stroke-dasharray="9.8 3.46"/>
<circle cx="598.20" cy="66.70" r="8.00" fill="none" stroke="#000" stroke-width="1.2"/>
<circle cx="598.20" cy="106.50" r="5.50" fill="#000"/>
<circle cx="672.70" cy="66.70" r="22.30" fill="#fff" stroke="#000" stroke-width="1.2"/>
<circle cx="672.70" cy="66.70" r="16.90" fill="none" stroke="#000" stroke-width="3.6"/>
<circle cx="672.70" cy="66.70" r="19.0" fill="none" stroke="#000" stroke-width="1.8" stroke-dasharray="9.8 3.46"/>
<circle cx="672.70" cy="66.70" r="8.00" fill="none" stroke="#000" stroke-width="1.2"/>
<circle cx="672.70" cy="106.50" r="5.50" fill="#000"/>
<text transform="translate(137.80,50.20) scale(0.81,1)" font-size="10.7" text-anchor="start" fill="#000" stroke="#000" stroke-width="0.12">-15V</text>
<text transform="translate(142.50,91.20) scale(0.81,1)" font-size="10.7" text-anchor="start" fill="#000" stroke="#000" stroke-width="0.12">J7</text>
<text transform="translate(209.70,50.20) scale(0.81,1)" font-size="10.7" text-anchor="start" fill="#000" stroke="#000" stroke-width="0.12">GND</text>
<text transform="translate(219.80,91.20) scale(0.81,1)" font-size="10.7" text-anchor="start" fill="#000" stroke="#000" stroke-width="0.12">J6</text>
<text transform="translate(285.80,50.20) scale(0.81,1)" font-size="10.7" text-anchor="start" fill="#000" stroke="#000" stroke-width="0.12">+15V</text>
<text transform="translate(340.90,91.60) scale(0.81,1)" font-size="10.7" text-anchor="start" fill="#000" stroke="#000" stroke-width="0.12">J5</text>
<line x1="291.60" y1="63.60" x2="291.60" y2="107.10" stroke="#000" stroke-width="1.1"/>
<rect x="286.95" y="73.10" width="9.30" height="25.70" fill="#fff" stroke="#000" stroke-width="1.3"/>
<circle cx="291.60" cy="63.60" r="3.70" fill="#000"/>
<circle cx="291.60" cy="107.10" r="3.70" fill="#000"/>
<text transform="translate(297.20,112.10) scale(0.81,1)" font-size="10.7" text-anchor="start" fill="#000" stroke="#000" stroke-width="0.12">R21</text>
<text transform="translate(372.10,59.30) scale(0.81,1)" font-size="10.7" text-anchor="start" fill="#000" stroke="#000" stroke-width="0.12">D3</text>
<text transform="translate(367.30,92.30) scale(0.81,1)" font-size="10.7" text-anchor="start" fill="#000" stroke="#000" stroke-width="0.12">D4</text>
<line x1="369.30" y1="73.80" x2="428.70" y2="73.80" stroke="#000" stroke-width="1.1"/>
<rect x="379.90" y="62.70" width="37.60" height="22.10" fill="#fff" stroke="#000" stroke-width="1.3"/>
<line x1="388.90" y1="62.70" x2="388.90" y2="84.80" stroke="#000" stroke-width="1.2"/>
<rect x="364.10" y="69.10" width="9.80" height="9.80" fill="#000"/>
<circle cx="428.50" cy="73.90" r="4.90" fill="#000"/>
<line x1="370.00" y1="99.70" x2="430.00" y2="99.70" stroke="#000" stroke-width="1.1"/>
<rect x="380.90" y="88.80" width="37.70" height="21.60" fill="#fff" stroke="#000" stroke-width="1.3"/>
<line x1="410.00" y1="88.80" x2="410.00" y2="110.40" stroke="#000" stroke-width="1.2"/>
<circle cx="369.90" cy="99.70" r="5.00" fill="#000"/>
<rect x="425.10" y="95.00" width="9.80" height="9.80" fill="#000"/>
<text transform="translate(432.00,50.20) scale(0.81,1)" font-size="10.7" text-anchor="start" fill="#000" stroke="#000" stroke-width="0.12">Power</text>
<text transform="translate(438.80,90.50) scale(0.81,1)" font-size="10.7" text-anchor="start" fill="#000" stroke="#000" stroke-width="0.12">C16</text>
<circle cx="452.50" cy="103.40" r="10.30" fill="#fff" stroke="#000" stroke-width="1.1"/>
<line x1="445.04" y1="110.50" x2="459.96" y2="110.50" stroke="#000" stroke-width="1"/>
<rect x="450.10" y="96.80" width="5.80" height="5.80" fill="#000"/>
<circle cx="452.40" cy="107.70" r="2.50" fill="#000"/>
<text transform="translate(458.93,96.00) scale(1,1)" font-size="8.8" text-anchor="start" fill="#000" stroke="#000" stroke-width="0.25">+</text>
<circle cx="478.50" cy="99.70" r="7.00" fill="#fff" stroke="#000" stroke-width="1.1"/>
<circle cx="478.50" cy="99.70" r="4.20" fill="#000"/>
<text transform="translate(468.50,117.70) scale(0.81,1)" font-size="10.7" text-anchor="start" fill="#000" stroke="#000" stroke-width="0.12">GND</text>
<text transform="translate(495.20,50.20) scale(0.81,1)" font-size="10.7" text-anchor="start" fill="#000" stroke="#000" stroke-width="0.12">IN-</text>
<text transform="translate(497.20,91.60) scale(0.81,1)" font-size="10.7" text-anchor="start" fill="#000" stroke="#000" stroke-width="0.12">J2</text>
<text transform="translate(546.70,50.20) scale(0.81,1)" font-size="10.7" text-anchor="start" fill="#000" stroke="#000" stroke-width="0.12">CHGND</text>
<text transform="translate(567.00,90.70) scale(0.81,1)" font-size="10.7" text-anchor="start" fill="#000" stroke="#000" stroke-width="0.12">J3</text>
<text transform="translate(638.50,50.80) scale(0.81,1)" font-size="10.7" text-anchor="start" fill="#000" stroke="#000" stroke-width="0.12">IN+</text>
<text transform="translate(642.30,91.20) scale(0.81,1)" font-size="10.7" text-anchor="start" fill="#000" stroke="#000" stroke-width="0.12">J4</text>
<text transform="translate(82.30,129.80) scale(0.8,1)" font-size="13.3" text-anchor="start" fill="#000">THAT 4305 COMPRESSOR DEMO BOARD</text>
<text transform="translate(82.30,142.58) scale(0.8,1)" font-size="13.3" text-anchor="start" fill="#000">THAT Corporation</text>
<text transform="translate(82.30,155.36) scale(0.8,1)" font-size="13.3" text-anchor="start" fill="#000">45 Sumner St. Milford, MA 01757</text>
<text transform="translate(82.30,168.14) scale(0.8,1)" font-size="13.3" text-anchor="start" fill="#000">Tel: +1 (508) 478-9200</text>
<text transform="translate(82.30,180.92) scale(0.8,1)" font-size="13.3" text-anchor="start" fill="#000">Fax: +1 (508) 478-0990</text>
<text transform="translate(82.30,193.70) scale(0.8,1)" font-size="13.3" text-anchor="start" fill="#000">Web: www.thatcorp.com</text>
<text transform="translate(82.30,206.48) scale(0.8,1)" font-size="13.3" text-anchor="start" fill="#000">Email: info@thatcorp.com</text>
<path d="M545.30,117.90 H561.30 L565.10,121.30 V125.90 L561.30,129.30 H545.30 L541.50,125.90 V121.30 Z" fill="#fff" stroke="#000" stroke-width="1.1" stroke-linejoin="round"/>
<circle cx="548.35" cy="123.60" r="2.50" fill="#000"/>
<circle cx="558.25" cy="123.60" r="2.50" fill="#000"/>
<path d="M606.40,117.90 H622.40 L626.20,121.30 V125.90 L622.40,129.30 H606.40 L602.60,125.90 V121.30 Z" fill="#fff" stroke="#000" stroke-width="1.1" stroke-linejoin="round"/>
<circle cx="609.45" cy="123.60" r="2.50" fill="#000"/>
<circle cx="619.35" cy="123.60" r="2.50" fill="#000"/>
<text transform="translate(545.90,115.10) scale(0.81,1)" font-size="10.7" text-anchor="start" fill="#000" stroke="#000" stroke-width="0.12">C21</text>
<text transform="translate(607.90,115.10) scale(0.81,1)" font-size="10.7" text-anchor="start" fill="#000" stroke="#000" stroke-width="0.12">C23</text>
<rect x="539.60" y="134.85" width="20.20" height="7.50" fill="#fff" stroke="#000" stroke-width="1.3"/>
<circle cx="536.00" cy="138.60" r="2.60" fill="#000"/>
<circle cx="563.50" cy="138.60" r="2.60" fill="#000"/>
<text transform="translate(568.00,141.20) scale(0.81,1)" font-size="10.7" text-anchor="start" fill="#000" stroke="#000" stroke-width="0.12">C24</text>
<rect x="549.00" y="145.70" width="20.30" height="39.30" fill="#fff" stroke="#000" stroke-width="1.3"/>
<path d="M556.75,145.70 A2.4,2.4 0 0 0 561.55,145.70" fill="none" stroke="#000" stroke-width="1"/>
<rect x="541.00" y="147.90" width="5.80" height="5.80" fill="#000"/>
<circle cx="574.10" cy="150.80" r="3.00" fill="#000"/>
<circle cx="543.90" cy="160.80" r="3.00" fill="#000"/>
<circle cx="574.10" cy="160.80" r="3.00" fill="#000"/>
<circle cx="543.90" cy="170.70" r="3.00" fill="#000"/>
<circle cx="574.10" cy="170.70" r="3.00" fill="#000"/>
<circle cx="543.90" cy="180.70" r="3.00" fill="#000"/>
<circle cx="574.10" cy="180.70" r="3.00" fill="#000"/>
<text transform="translate(578.90,155.00) scale(0.81,1)" font-size="10.7" text-anchor="start" fill="#000" stroke="#000" stroke-width="0.12">U2</text>
<rect x="548.80" y="187.65" width="19.90" height="7.50" fill="#fff" stroke="#000" stroke-width="1.3"/>
<circle cx="545.20" cy="191.40" r="2.60" fill="#000"/>
<circle cx="572.80" cy="191.40" r="2.60" fill="#000"/>
<text transform="translate(549.50,205.00) scale(0.81,1)" font-size="10.7" text-anchor="start" fill="#000" stroke="#000" stroke-width="0.12">C25</text>
<line x1="588.10" y1="172.30" x2="588.10" y2="216.00" stroke="#000" stroke-width="1.1"/>
<rect x="583.60" y="181.50" width="9.00" height="25.80" fill="#fff" stroke="#000" stroke-width="1.3"/>
<circle cx="588.10" cy="172.30" r="3.80" fill="#000"/>
<circle cx="588.10" cy="216.00" r="3.80" fill="#000"/>
<text transform="translate(566.80,214.60) scale(0.81,1)" font-size="10.7" text-anchor="start" fill="#000" stroke="#000" stroke-width="0.12">R19</text>
<text transform="translate(606.80,174.70) scale(0.81,1)" font-size="10.7" text-anchor="start" fill="#000" stroke="#000" stroke-width="0.12">C22</text>
<circle cx="607.10" cy="187.10" r="10.50" fill="#fff" stroke="#000" stroke-width="1.1"/>
<line x1="599.10" y1="193.90" x2="615.10" y2="193.90" stroke="#000" stroke-width="1"/>
<rect x="604.20" y="180.30" width="5.80" height="5.80" fill="#000"/>
<circle cx="607.10" cy="190.90" r="2.50" fill="#000"/>
<text transform="translate(606.90,142.60) scale(0.81,1)" font-size="10.7" text-anchor="start" fill="#000" stroke="#000" stroke-width="0.12">External Control</text>
<text transform="translate(606.90,151.30) scale(0.81,1)" font-size="10.7" text-anchor="start" fill="#000" stroke="#000" stroke-width="0.12">Voltage Buffer</text>
<text transform="translate(651.00,215.40) scale(0.81,1)" font-size="10.7" text-anchor="start" fill="#000" stroke="#000" stroke-width="0.12">P1</text>
<text transform="translate(615.00,236.20) scale(0.81,1)" font-size="10.7" text-anchor="start" fill="#000" stroke="#000" stroke-width="0.12">OUT+</text>
<circle cx="632.60" cy="246.40" r="7.00" fill="#fff" stroke="#000" stroke-width="1.1"/>
<circle cx="632.60" cy="246.40" r="4.20" fill="#000"/>
<text transform="translate(608.80,258.00) scale(0.81,1)" font-size="10.7" text-anchor="start" fill="#000" stroke="#000" stroke-width="0.12">R5</text>
<line x1="600.40" y1="264.90" x2="643.50" y2="264.90" stroke="#000" stroke-width="1.1"/>
<rect x="609.10" y="260.75" width="25.70" height="8.30" fill="#fff" stroke="#000" stroke-width="1.3"/>
<circle cx="600.40" cy="264.90" r="3.50" fill="#000"/>
<circle cx="643.50" cy="264.90" r="3.50" fill="#000"/>
<line x1="600.40" y1="276.80" x2="643.50" y2="276.80" stroke="#000" stroke-width="1.1"/>
<rect x="609.10" y="272.65" width="25.90" height="8.30" fill="#fff" stroke="#000" stroke-width="1.3"/>
<circle cx="600.40" cy="276.80" r="3.60" fill="#000"/>
<circle cx="643.50" cy="276.80" r="3.60" fill="#000"/>
<text transform="translate(608.80,291.50) scale(0.81,1)" font-size="10.7" text-anchor="start" fill="#000" stroke="#000" stroke-width="0.12">R6</text>
<circle cx="633.00" cy="293.80" r="7.00" fill="#fff" stroke="#000" stroke-width="1.1"/>
<circle cx="633.00" cy="293.80" r="4.20" fill="#000"/>
<text transform="translate(614.30,311.30) scale(0.81,1)" font-size="10.7" text-anchor="start" fill="#000" stroke="#000" stroke-width="0.12">OUT-</text>
<rect x="72.40" y="232.05" width="84.50" height="97.85" fill="#fff" stroke="#000" stroke-width="1.1"/>
<rect x="55.20" y="231.75" width="10.10" height="97.15" fill="#fff" stroke="#000" stroke-width="1.0"/>
<rect x="65.30" y="225.15" width="7.10" height="109.25" fill="#fff" stroke="#000" stroke-width="1.0"/>
<circle cx="109.00" cy="230.60" r="6.00" fill="#000"/>
<circle cx="109.00" cy="330.10" r="6.00" fill="#000"/>
<circle cx="137.30" cy="266.00" r="6.70" fill="#000"/>
<circle cx="127.40" cy="280.50" r="5.20" fill="#000"/>
<circle cx="98.00" cy="295.20" r="6.70" fill="#000"/>
<circle cx="156.90" cy="264.50" r="5.30" fill="#000"/>
<circle cx="156.90" cy="280.50" r="5.30" fill="#000"/>
<circle cx="156.90" cy="296.40" r="5.30" fill="#000"/>
<rect x="660.70" y="232.25" width="84.00" height="98.05" fill="#fff" stroke="#000" stroke-width="1.1"/>
<rect x="751.80" y="231.75" width="9.90" height="97.15" fill="#fff" stroke="#000" stroke-width="1.0"/>
<rect x="744.70" y="225.15" width="7.10" height="109.05" fill="#fff" stroke="#000" stroke-width="1.0"/>
<circle cx="708.30" cy="231.75" r="6.00" fill="#000"/>
<circle cx="708.40" cy="331.00" r="6.00" fill="#000"/>
<circle cx="719.30" cy="266.70" r="6.60" fill="#000"/>
<circle cx="689.70" cy="281.40" r="5.20" fill="#000"/>
<circle cx="680.10" cy="295.80" r="6.60" fill="#000"/>
<circle cx="660.70" cy="265.20" r="5.30" fill="#000"/>
<circle cx="660.70" cy="281.40" r="5.30" fill="#000"/>
<circle cx="660.70" cy="297.40" r="5.30" fill="#000"/>
<text transform="translate(677.80,356.20) scale(0.81,1)" font-size="10.7" text-anchor="start" fill="#000" stroke="#000" stroke-width="0.12">Output</text>
<text transform="translate(85.00,355.00) scale(0.826,1)" font-size="10.7" text-anchor="start" fill="#000" stroke="#000" stroke-width="0.12">Input Buffer and RFI Protection</text>
<text transform="translate(169.80,226.50) scale(0.81,1)" font-size="10.7" text-anchor="start" fill="#000" stroke="#000" stroke-width="0.12">J1</text>
<text transform="translate(171.00,244.10) scale(0.81,1)" font-size="10.7" text-anchor="start" fill="#000" stroke="#000" stroke-width="0.12">C4</text>
<rect x="170.85" y="255.60" width="7.50" height="19.50" fill="#fff" stroke="#000" stroke-width="1.3"/>
<circle cx="174.60" cy="251.50" r="2.60" fill="#000"/>
<circle cx="174.60" cy="279.40" r="2.60" fill="#000"/>
<rect x="170.85" y="292.40" width="7.50" height="20.00" fill="#fff" stroke="#000" stroke-width="1.3"/>
<circle cx="174.60" cy="288.80" r="2.60" fill="#000"/>
<circle cx="174.60" cy="316.20" r="2.60" fill="#000"/>
<text transform="translate(170.80,328.60) scale(0.81,1)" font-size="10.7" text-anchor="start" fill="#000" stroke="#000" stroke-width="0.12">C6</text>
<rect x="190.90" y="254.75" width="20.20" height="7.30" fill="#fff" stroke="#000" stroke-width="1.3"/>
<circle cx="186.80" cy="258.40" r="3.00" fill="#000"/>
<circle cx="215.20" cy="258.40" r="3.00" fill="#000"/>
<text transform="translate(193.40,251.90) scale(0.81,1)" font-size="10.7" text-anchor="start" fill="#000" stroke="#000" stroke-width="0.12">C20</text>
<rect x="191.10" y="264.00" width="20.60" height="40.00" fill="#fff" stroke="#000" stroke-width="1.3"/>
<path d="M199.00,264.00 A2.4,2.4 0 0 0 203.80,264.00" fill="none" stroke="#000" stroke-width="1"/>
<rect x="183.90" y="266.10" width="5.80" height="5.80" fill="#000"/>
<circle cx="216.50" cy="269.00" r="3.00" fill="#000"/>
<circle cx="186.80" cy="279.10" r="3.00" fill="#000"/>
<circle cx="216.50" cy="279.10" r="3.00" fill="#000"/>
<circle cx="186.80" cy="289.00" r="3.00" fill="#000"/>
<circle cx="216.50" cy="289.00" r="3.00" fill="#000"/>
<circle cx="186.80" cy="299.00" r="3.00" fill="#000"/>
<circle cx="216.50" cy="299.00" r="3.00" fill="#000"/>
<text transform="translate(221.10,271.40) scale(0.81,1)" font-size="10.7" text-anchor="start" fill="#000" stroke="#000" stroke-width="0.12">U5</text>
<rect x="190.90" y="306.85" width="21.00" height="7.70" fill="#fff" stroke="#000" stroke-width="1.3"/>
<circle cx="187.30" cy="310.70" r="3.00" fill="#000"/>
<circle cx="215.20" cy="310.70" r="3.00" fill="#000"/>
<text transform="translate(194.70,325.30) scale(0.81,1)" font-size="10.7" text-anchor="start" fill="#000" stroke="#000" stroke-width="0.12">C19</text>
<text transform="translate(278.00,222.60) scale(0.81,1)" font-size="10.7" text-anchor="start" fill="#000" stroke="#000" stroke-width="0.12">C9</text>
<circle cx="291.70" cy="234.00" r="10.60" fill="#fff" stroke="#000" stroke-width="1.1"/>
<line x1="283.18" y1="240.30" x2="300.22" y2="240.30" stroke="#000" stroke-width="1"/>
<rect x="289.10" y="227.90" width="5.80" height="5.80" fill="#000"/>
<circle cx="291.70" cy="238.20" r="2.50" fill="#000"/>
<text transform="translate(294.03,223.00) scale(1,1)" font-size="8.8" text-anchor="start" fill="#000" stroke="#000" stroke-width="0.25">+</text>
<line x1="308.80" y1="230.20" x2="351.80" y2="230.20" stroke="#000" stroke-width="1.1"/>
<rect x="316.90" y="225.70" width="26.60" height="9.00" fill="#fff" stroke="#000" stroke-width="1.3"/>
<circle cx="308.80" cy="230.20" r="3.70" fill="#000"/>
<circle cx="351.80" cy="230.20" r="3.70" fill="#000"/>
<text transform="translate(321.70,223.60) scale(0.81,1)" font-size="10.7" text-anchor="start" fill="#000" stroke="#000" stroke-width="0.12">R15</text>
<circle cx="278.20" cy="253.80" r="7.00" fill="#fff" stroke="#000" stroke-width="1.1"/>
<circle cx="278.20" cy="253.80" r="4.20" fill="#000"/>
<text transform="translate(262.00,247.20) scale(0.81,1)" font-size="10.7" text-anchor="middle" fill="#000" stroke="#000" stroke-width="0.12">RMS</text>
<text transform="translate(262.00,256.20) scale(0.81,1)" font-size="10.7" text-anchor="middle" fill="#000" stroke="#000" stroke-width="0.12">IN</text>
<circle cx="313.00" cy="249.50" r="10.60" fill="#fff" stroke="#000" stroke-width="1.1"/>
<line x1="320.00" y1="241.54" x2="320.00" y2="257.46" stroke="#000" stroke-width="1"/>
<rect x="306.10" y="246.90" width="5.80" height="5.80" fill="#000"/>
<circle cx="317.40" cy="249.80" r="2.50" fill="#000"/>
<text transform="translate(302.83,240.00) scale(1,1)" font-size="8.8" text-anchor="start" fill="#000" stroke="#000" stroke-width="0.25">+</text>
<circle cx="339.90" cy="248.90" r="10.60" fill="#fff" stroke="#000" stroke-width="1.1"/>
<line x1="333.30" y1="240.61" x2="333.30" y2="257.19" stroke="#000" stroke-width="1"/>
<rect x="341.10" y="246.40" width="5.80" height="5.80" fill="#000"/>
<circle cx="336.10" cy="249.30" r="2.50" fill="#000"/>
<text transform="translate(349.03,243.60) scale(1,1)" font-size="8.8" text-anchor="start" fill="#000" stroke="#000" stroke-width="0.25">+</text>
<text transform="translate(290.80,263.20) scale(0.81,1)" font-size="10.7" text-anchor="start" fill="#000" stroke="#000" stroke-width="0.12">C11</text>
<text transform="translate(318.50,263.80) scale(0.81,1)" font-size="10.7" text-anchor="start" fill="#000" stroke="#000" stroke-width="0.12">C10</text>
<line x1="267.10" y1="268.80" x2="310.10" y2="268.80" stroke="#000" stroke-width="1.1"/>
<rect x="275.10" y="264.40" width="26.80" height="8.80" fill="#fff" stroke="#000" stroke-width="1.3"/>
<circle cx="267.10" cy="268.80" r="3.70" fill="#000"/>
<circle cx="310.10" cy="268.80" r="3.70" fill="#000"/>
<text transform="translate(279.80,282.80) scale(0.81,1)" font-size="10.7" text-anchor="start" fill="#000" stroke="#000" stroke-width="0.12">R13</text>
<rect x="325.20" y="265.20" width="20.60" height="7.80" fill="#fff" stroke="#000" stroke-width="1.3"/>
<circle cx="321.50" cy="269.10" r="2.60" fill="#000"/>
<circle cx="349.00" cy="269.10" r="2.60" fill="#000"/>
<text transform="translate(325.60,282.90) scale(0.81,1)" font-size="10.7" text-anchor="start" fill="#000" stroke="#000" stroke-width="0.12">C15</text>
<text transform="translate(350.00,216.90) scale(0.81,1)" font-size="10.7" text-anchor="start" fill="#000" stroke="#000" stroke-width="0.12">U1</text>
<text transform="translate(373.00,209.40) rotate(-90) scale(0.81,1)" font-size="10.7" text-anchor="start" fill="#000" stroke="#000" stroke-width="0.12">PIN 1</text>
<line x1="377.50" y1="186.30" x2="377.50" y2="215.50" stroke="#000" stroke-width="1.1"/>
<path d="M374.2,212.3 L377.5,215.7 L380.8,212.3" fill="none" stroke="#000" stroke-width="1.1"/>
<rect x="359.20" y="219.30" width="82.20" height="68.70" fill="#fff" stroke="#000" stroke-width="1.2"/>
<ellipse cx="367.50" cy="240.90" rx="3.3" ry="2.55" fill="#000"/>
<ellipse cx="377.50" cy="238.20" rx="3.3" ry="2.55" fill="#000"/>
<ellipse cx="422.80" cy="240.90" rx="3.3" ry="2.55" fill="#000"/>
<ellipse cx="432.60" cy="238.20" rx="3.3" ry="2.55" fill="#000"/>
<ellipse cx="367.50" cy="245.90" rx="3.3" ry="2.55" fill="#000"/>
<ellipse cx="377.50" cy="243.30" rx="3.3" ry="2.55" fill="#000"/>
<ellipse cx="422.80" cy="245.90" rx="3.3" ry="2.55" fill="#000"/>
<ellipse cx="432.60" cy="243.30" rx="3.3" ry="2.55" fill="#000"/>
<ellipse cx="367.50" cy="250.90" rx="3.3" ry="2.55" fill="#000"/>
<ellipse cx="377.50" cy="248.40" rx="3.3" ry="2.55" fill="#000"/>
<ellipse cx="422.80" cy="250.90" rx="3.3" ry="2.55" fill="#000"/>
<ellipse cx="432.60" cy="248.40" rx="3.3" ry="2.55" fill="#000"/>
<ellipse cx="367.50" cy="255.90" rx="3.3" ry="2.55" fill="#000"/>
<ellipse cx="377.50" cy="253.50" rx="3.3" ry="2.55" fill="#000"/>
<ellipse cx="422.80" cy="255.90" rx="3.3" ry="2.55" fill="#000"/>
<ellipse cx="432.60" cy="253.50" rx="3.3" ry="2.55" fill="#000"/>
<circle cx="399.90" cy="239.00" r="2.95" fill="#000"/>
<circle cx="399.90" cy="270.50" r="2.95" fill="#000"/>
<line x1="377.00" y1="294.90" x2="377.00" y2="338.10" stroke="#000" stroke-width="1.1"/>
<rect x="372.40" y="303.10" width="9.20" height="26.30" fill="#fff" stroke="#000" stroke-width="1.3"/>
<circle cx="377.00" cy="294.90" r="3.80" fill="#000"/>
<circle cx="377.00" cy="338.10" r="3.80" fill="#000"/>
<text transform="translate(371.40,350.70) scale(0.81,1)" font-size="10.7" text-anchor="start" fill="#000" stroke="#000" stroke-width="0.12">R14</text>
<circle cx="360.00" cy="338.10" r="7.00" fill="#fff" stroke="#000" stroke-width="1.1"/>
<circle cx="360.00" cy="338.10" r="4.20" fill="#000"/>
<text transform="translate(340.00,335.90) scale(0.81,1)" font-size="10.7" text-anchor="middle" fill="#000" stroke="#000" stroke-width="0.12">RMS</text>
<text transform="translate(340.00,345.30) scale(0.81,1)" font-size="10.7" text-anchor="middle" fill="#000" stroke="#000" stroke-width="0.12">OUT</text>
<text transform="translate(398.00,135.20) scale(0.81,1)" font-size="10.7" text-anchor="start" fill="#000" stroke="#000" stroke-width="0.12">C1</text>
<rect x="416.60" y="128.40" width="20.20" height="7.60" fill="#fff" stroke="#000" stroke-width="1.3"/>
<circle cx="412.50" cy="132.20" r="2.60" fill="#000"/>
<circle cx="440.90" cy="132.20" r="2.60" fill="#000"/>
<text transform="translate(389.70,147.40) scale(0.81,1)" font-size="10.7" text-anchor="start" fill="#000" stroke="#000" stroke-width="0.12">R1</text>
<line x1="406.10" y1="143.70" x2="449.30" y2="143.70" stroke="#000" stroke-width="1.1"/>
<rect x="415.30" y="139.25" width="25.80" height="8.90" fill="#fff" stroke="#000" stroke-width="1.3"/>
<circle cx="406.10" cy="143.70" r="3.70" fill="#000"/>
<circle cx="449.30" cy="143.70" r="3.70" fill="#000"/>
<text transform="translate(393.00,159.30) scale(0.81,1)" font-size="10.7" text-anchor="start" fill="#000" stroke="#000" stroke-width="0.12">C5</text>
<rect x="413.60" y="151.60" width="19.90" height="7.40" fill="#fff" stroke="#000" stroke-width="1.3"/>
<circle cx="410.00" cy="155.30" r="2.60" fill="#000"/>
<circle cx="437.10" cy="155.30" r="2.60" fill="#000"/>
<text transform="translate(455.60,147.90) scale(0.81,1)" font-size="9.9" text-anchor="start" fill="#000" stroke="#000" stroke-width="0.12">VCA</text>
<text transform="translate(455.60,156.70) scale(0.81,1)" font-size="9.9" text-anchor="start" fill="#000" stroke="#000" stroke-width="0.12">Current-to Voltage</text>
<text transform="translate(455.60,165.60) scale(0.81,1)" font-size="9.9" text-anchor="start" fill="#000" stroke="#000" stroke-width="0.12">Converter</text>
<rect x="402.30" y="173.60" width="40.10" height="19.80" fill="#fff" stroke="#000" stroke-width="1.3"/>
<path d="M402.3,180.5 A2.7,2.7 0 0 1 402.3,185.9" fill="none" stroke="#000" stroke-width="1"/>
<circle cx="407.90" cy="168.50" r="3.00" fill="#000"/>
<rect x="405.00" y="195.10" width="5.80" height="5.80" fill="#000"/>
<circle cx="417.80" cy="168.50" r="3.00" fill="#000"/>
<circle cx="417.80" cy="198.00" r="3.00" fill="#000"/>
<circle cx="427.80" cy="168.50" r="3.00" fill="#000"/>
<circle cx="427.80" cy="198.00" r="3.00" fill="#000"/>
<circle cx="437.80" cy="168.50" r="3.00" fill="#000"/>
<circle cx="437.80" cy="198.00" r="3.00" fill="#000"/>
<text transform="translate(406.90,210.00) scale(0.81,1)" font-size="10.7" text-anchor="start" fill="#000" stroke="#000" stroke-width="0.12">U3</text>
<rect x="392.10" y="173.90" width="7.80" height="19.40" fill="#fff" stroke="#000" stroke-width="1.3"/>
<circle cx="396.00" cy="169.80" r="2.70" fill="#000"/>
<circle cx="396.00" cy="197.00" r="2.70" fill="#000"/>
<text transform="translate(387.90,207.80) scale(0.81,1)" font-size="10.7" text-anchor="start" fill="#000" stroke="#000" stroke-width="0.12">C12</text>
<rect x="450.50" y="175.40" width="7.80" height="20.00" fill="#fff" stroke="#000" stroke-width="1.3"/>
<circle cx="454.40" cy="171.80" r="2.70" fill="#000"/>
<circle cx="454.40" cy="199.00" r="2.70" fill="#000"/>
<text transform="translate(458.90,204.00) scale(0.81,1)" font-size="10.7" text-anchor="start" fill="#000" stroke="#000" stroke-width="0.12">C13</text>
<rect x="455.40" y="213.15" width="20.20" height="8.30" fill="#fff" stroke="#000" stroke-width="1.3"/>
<circle cx="451.80" cy="217.30" r="2.70" fill="#000"/>
<circle cx="479.70" cy="217.30" r="2.70" fill="#000"/>
<text transform="translate(483.10,221.00) scale(0.81,1)" font-size="10.7" text-anchor="start" fill="#000" stroke="#000" stroke-width="0.12">C2</text>
<text transform="translate(495.70,226.00) scale(0.81,1)" font-size="10.7" text-anchor="start" fill="#000" stroke="#000" stroke-width="0.12">R3</text>
<line x1="451.40" y1="230.40" x2="494.60" y2="230.40" stroke="#000" stroke-width="1.1"/>
<rect x="459.00" y="226.25" width="26.90" height="8.30" fill="#fff" stroke="#000" stroke-width="1.3"/>
<circle cx="451.40" cy="230.40" r="3.60" fill="#000"/>
<circle cx="494.60" cy="230.40" r="3.60" fill="#000"/>
<line x1="451.40" y1="241.30" x2="494.60" y2="241.30" stroke="#000" stroke-width="1.1"/>
<rect x="459.00" y="237.15" width="26.90" height="8.30" fill="#fff" stroke="#000" stroke-width="1.3"/>
<circle cx="451.40" cy="241.30" r="3.60" fill="#000"/>
<circle cx="494.60" cy="241.30" r="3.60" fill="#000"/>
<line x1="451.40" y1="252.20" x2="494.60" y2="252.20" stroke="#000" stroke-width="1.1"/>
<rect x="459.00" y="248.05" width="26.90" height="8.30" fill="#fff" stroke="#000" stroke-width="1.3"/>
<circle cx="451.40" cy="252.20" r="3.60" fill="#000"/>
<circle cx="494.60" cy="252.20" r="3.60" fill="#000"/>
<line x1="451.40" y1="263.00" x2="494.60" y2="263.00" stroke="#000" stroke-width="1.1"/>
<rect x="459.00" y="258.85" width="26.90" height="8.30" fill="#fff" stroke="#000" stroke-width="1.3"/>
<circle cx="451.40" cy="263.00" r="3.60" fill="#000"/>
<circle cx="494.60" cy="263.00" r="3.60" fill="#000"/>
<text transform="translate(498.50,243.80) scale(0.81,1)" font-size="10.7" text-anchor="start" fill="#000" stroke="#000" stroke-width="0.12">R4</text>
<text transform="translate(498.50,254.90) scale(0.81,1)" font-size="10.7" text-anchor="start" fill="#000" stroke="#000" stroke-width="0.12">R7</text>
<text transform="translate(498.50,265.90) scale(0.81,1)" font-size="10.7" text-anchor="start" fill="#000" stroke="#000" stroke-width="0.12">R8</text>
<text transform="translate(507.40,212.60) scale(0.81,1)" font-size="10.7" text-anchor="start" fill="#000" stroke="#000" stroke-width="0.12">C3</text>
<circle cx="518.30" cy="225.00" r="10.20" fill="#fff" stroke="#000" stroke-width="1.1"/>
<line x1="510.05" y1="219.00" x2="526.55" y2="219.00" stroke="#000" stroke-width="1"/>
<rect x="515.20" y="226.00" width="5.80" height="5.80" fill="#000"/>
<circle cx="518.10" cy="221.20" r="2.50" fill="#000"/>
<text transform="translate(526.93,238.00) scale(1,1)" font-size="8.8" text-anchor="start" fill="#000" stroke="#000" stroke-width="0.25">+</text>
<text transform="translate(533.10,250.50) scale(0.7,1)" font-size="10.0" text-anchor="middle" fill="#000" stroke="#000" stroke-width="0.12">CONTROL</text>
<text transform="translate(532.70,259.70) scale(0.7,1)" font-size="10.0" text-anchor="middle" fill="#000" stroke="#000" stroke-width="0.12">VOLTAGE</text>
<circle cx="517.20" cy="268.50" r="7.00" fill="#fff" stroke="#000" stroke-width="1.1"/>
<circle cx="517.20" cy="268.50" r="4.20" fill="#000"/>
<text transform="translate(481.00,290.20) scale(0.81,1)" font-size="10.7" text-anchor="start" fill="#000" stroke="#000" stroke-width="0.12">R20</text>
<line x1="502.90" y1="287.00" x2="546.00" y2="287.00" stroke="#000" stroke-width="1.1"/>
<rect x="511.00" y="282.60" width="26.70" height="8.80" fill="#fff" stroke="#000" stroke-width="1.3"/>
<circle cx="502.90" cy="287.00" r="3.70" fill="#000"/>
<circle cx="546.00" cy="287.00" r="3.70" fill="#000"/>
<text transform="translate(568.10,291.30) scale(0.81,1)" font-size="9.9" text-anchor="start" fill="#000" stroke="#000" stroke-width="0.12">Control</text>
<text transform="translate(568.10,299.60) scale(0.81,1)" font-size="9.9" text-anchor="start" fill="#000" stroke="#000" stroke-width="0.12">Voltage</text>
<text transform="translate(568.10,307.80) scale(0.81,1)" font-size="9.9" text-anchor="start" fill="#000" stroke="#000" stroke-width="0.12">Source</text>
<line x1="412.80" y1="297.50" x2="412.80" y2="340.60" stroke="#000" stroke-width="1.1"/>
<rect x="408.25" y="306.10" width="9.10" height="25.80" fill="#fff" stroke="#000" stroke-width="1.3"/>
<circle cx="412.80" cy="297.50" r="3.70" fill="#000"/>
<circle cx="412.80" cy="340.60" r="3.70" fill="#000"/>
<text transform="translate(409.50,353.20) scale(0.81,1)" font-size="10.7" text-anchor="start" fill="#000" stroke="#000" stroke-width="0.12">R2</text>
<rect x="420.20" y="300.60" width="7.40" height="19.90" fill="#fff" stroke="#000" stroke-width="1.3"/>
<circle cx="423.90" cy="297.00" r="2.60" fill="#000"/>
<circle cx="423.90" cy="324.10" r="2.60" fill="#000"/>
<text transform="translate(429.00,308.00) scale(0.81,1)" font-size="10.7" text-anchor="start" fill="#000" stroke="#000" stroke-width="0.12">C14</text>
<line x1="434.60" y1="317.30" x2="434.60" y2="360.40" stroke="#000" stroke-width="1.1"/>
<rect x="430.10" y="325.40" width="9.00" height="26.30" fill="#fff" stroke="#000" stroke-width="1.3"/>
<circle cx="434.60" cy="317.30" r="3.70" fill="#000"/>
<circle cx="434.60" cy="360.40" r="3.70" fill="#000"/>
<line x1="445.40" y1="317.30" x2="445.40" y2="360.40" stroke="#000" stroke-width="1.1"/>
<rect x="440.85" y="325.40" width="9.10" height="26.30" fill="#fff" stroke="#000" stroke-width="1.3"/>
<circle cx="445.40" cy="317.30" r="3.70" fill="#000"/>
<circle cx="445.40" cy="360.40" r="3.70" fill="#000"/>
<line x1="456.50" y1="317.30" x2="456.50" y2="360.40" stroke="#000" stroke-width="1.1"/>
<rect x="451.60" y="325.40" width="9.80" height="26.30" fill="#fff" stroke="#000" stroke-width="1.3"/>
<circle cx="456.50" cy="317.30" r="3.70" fill="#000"/>
<circle cx="456.50" cy="360.40" r="3.70" fill="#000"/>
<text transform="translate(414.50,364.60) scale(0.81,1)" font-size="10.7" text-anchor="start" fill="#000" stroke="#000" stroke-width="0.12">R11</text>
<text transform="translate(431.00,373.50) scale(0.81,1)" font-size="10.7" text-anchor="start" fill="#000" stroke="#000" stroke-width="0.12">R18</text>
<text transform="translate(449.50,373.50) scale(0.81,1)" font-size="10.7" text-anchor="start" fill="#000" stroke="#000" stroke-width="0.12">R17</text>
<text transform="translate(459.70,312.10) scale(0.81,1)" font-size="10.7" text-anchor="start" fill="#000" stroke="#000" stroke-width="0.12">D2</text>
<text transform="translate(479.20,312.00) scale(0.81,1)" font-size="10.7" text-anchor="start" fill="#000" stroke="#000" stroke-width="0.12">D1</text>
<text transform="translate(491.40,306.80) scale(0.81,1)" font-size="10.7" text-anchor="start" fill="#000" stroke="#000" stroke-width="0.12">Ext</text>
<line x1="474.50" y1="314.10" x2="474.50" y2="343.50" stroke="#000" stroke-width="1.1"/>
<rect x="470.70" y="320.70" width="7.60" height="16.40" fill="#fff" stroke="#000" stroke-width="1.3"/>
<line x1="470.70" y1="334.60" x2="478.30" y2="334.60" stroke="#444" stroke-width="0.9"/>
<circle cx="474.50" cy="314.10" r="3.10" fill="#000"/>
<rect x="471.05" y="340.05" width="6.90" height="6.90" fill="#000"/>
<line x1="494.60" y1="312.30" x2="494.60" y2="341.50" stroke="#000" stroke-width="1.1"/>
<rect x="490.80" y="318.60" width="7.60" height="17.10" fill="#fff" stroke="#000" stroke-width="1.3"/>
<line x1="490.80" y1="333.20" x2="498.40" y2="333.20" stroke="#444" stroke-width="0.9"/>
<circle cx="494.60" cy="312.30" r="3.10" fill="#000"/>
<rect x="491.15" y="338.05" width="6.90" height="6.90" fill="#000"/>
<line x1="471.60" y1="352.80" x2="471.60" y2="395.90" stroke="#000" stroke-width="1.1"/>
<rect x="466.80" y="361.50" width="9.60" height="26.30" fill="#fff" stroke="#000" stroke-width="1.3"/>
<circle cx="471.60" cy="352.80" r="3.70" fill="#000"/>
<circle cx="471.60" cy="395.90" r="3.70" fill="#000"/>
<line x1="488.30" y1="352.80" x2="488.30" y2="395.90" stroke="#000" stroke-width="1.1"/>
<rect x="483.50" y="361.50" width="9.60" height="26.30" fill="#fff" stroke="#000" stroke-width="1.3"/>
<circle cx="488.30" cy="352.80" r="3.70" fill="#000"/>
<circle cx="488.30" cy="395.90" r="3.70" fill="#000"/>
<line x1="501.00" y1="352.80" x2="501.00" y2="395.90" stroke="#000" stroke-width="1.1"/>
<rect x="496.20" y="361.50" width="9.60" height="26.30" fill="#fff" stroke="#000" stroke-width="1.3"/>
<circle cx="501.00" cy="352.80" r="3.70" fill="#000"/>
<circle cx="501.00" cy="395.90" r="3.70" fill="#000"/>
<text transform="translate(462.20,409.00) scale(0.81,1)" font-size="10.7" text-anchor="start" fill="#000" stroke="#000" stroke-width="0.12">R16</text>
<text transform="translate(483.30,409.00) scale(0.81,1)" font-size="10.7" text-anchor="start" fill="#000" stroke="#000" stroke-width="0.12">R9</text>
<text transform="translate(498.00,409.00) scale(0.81,1)" font-size="10.7" text-anchor="start" fill="#000" stroke="#000" stroke-width="0.12">R10</text>
<rect x="507.80" y="337.10" width="7.80" height="20.20" fill="#fff" stroke="#000" stroke-width="1.3"/>
<circle cx="511.70" cy="333.50" r="2.60" fill="#000"/>
<circle cx="511.70" cy="360.90" r="2.60" fill="#000"/>
<text transform="translate(509.10,372.70) scale(0.81,1)" font-size="10.7" text-anchor="start" fill="#000" stroke="#000" stroke-width="0.12">C7</text>
<path d="M513.2,301.7 H533.6 V320.9 H525.4 V318 H521.5 V320.9 H513.2 Z" fill="#fff" stroke="#000" stroke-width="1.1"/>
<circle cx="508.20" cy="307.10" r="2.60" fill="#000"/>
<circle cx="508.20" cy="316.80" r="2.60" fill="#000"/>
<circle cx="538.40" cy="307.10" r="2.60" fill="#000"/>
<rect x="535.70" y="314.10" width="5.40" height="5.40" fill="#000"/>
<text transform="translate(513.50,331.40) scale(0.81,1)" font-size="10.7" text-anchor="start" fill="#000" stroke="#000" stroke-width="0.12">SW1</text>
<text transform="translate(542.30,307.40) scale(0.81,1)" font-size="9.8" text-anchor="start" fill="#000" stroke="#000" stroke-width="0.12">Int</text>
<text transform="translate(542.30,317.60) scale(0.81,1)" font-size="9.8" text-anchor="start" fill="#000" stroke="#000" stroke-width="0.12">(Compressor)</text>
<rect x="540.80" y="325.10" width="20.90" height="7.40" fill="#fff" stroke="#000" stroke-width="1.3"/>
<circle cx="537.90" cy="328.80" r="2.70" fill="#000"/>
<circle cx="565.00" cy="328.80" r="2.70" fill="#000"/>
<text transform="translate(569.00,328.80) scale(0.81,1)" font-size="10.7" text-anchor="start" fill="#000" stroke="#000" stroke-width="0.12">C17</text>
<rect x="541.00" y="335.50" width="20.80" height="40.10" fill="#fff" stroke="#000" stroke-width="1.3"/>
<path d="M549.00,335.50 A2.4,2.4 0 0 0 553.80,335.50" fill="none" stroke="#000" stroke-width="1"/>
<rect x="533.30" y="337.80" width="5.80" height="5.80" fill="#000"/>
<circle cx="566.00" cy="340.70" r="3.00" fill="#000"/>
<circle cx="536.20" cy="350.80" r="3.00" fill="#000"/>
<circle cx="566.00" cy="350.80" r="3.00" fill="#000"/>
<circle cx="536.20" cy="360.80" r="3.00" fill="#000"/>
<circle cx="566.00" cy="360.80" r="3.00" fill="#000"/>
<circle cx="536.20" cy="370.70" r="3.00" fill="#000"/>
<circle cx="566.00" cy="370.70" r="3.00" fill="#000"/>
<text transform="translate(520.70,347.40) scale(0.81,1)" font-size="10.7" text-anchor="start" fill="#000" stroke="#000" stroke-width="0.12">U4</text>
<rect x="540.70" y="379.30" width="19.90" height="8.00" fill="#fff" stroke="#000" stroke-width="1.3"/>
<circle cx="537.10" cy="383.30" r="2.70" fill="#000"/>
<circle cx="565.00" cy="383.30" r="2.70" fill="#000"/>
<text transform="translate(542.90,397.40) scale(0.81,1)" font-size="10.7" text-anchor="start" fill="#000" stroke="#000" stroke-width="0.12">C18</text>
<text transform="translate(571.60,346.80) scale(0.81,1)" font-size="10.7" text-anchor="start" fill="#000" stroke="#000" stroke-width="0.12">C8</text>
<rect x="575.00" y="354.40" width="7.80" height="19.90" fill="#fff" stroke="#000" stroke-width="1.3"/>
<circle cx="578.90" cy="350.80" r="2.60" fill="#000"/>
<circle cx="578.90" cy="377.40" r="2.60" fill="#000"/>
<line x1="589.10" y1="333.50" x2="589.10" y2="376.60" stroke="#000" stroke-width="1.1"/>
<rect x="584.50" y="342.20" width="9.20" height="26.00" fill="#fff" stroke="#000" stroke-width="1.3"/>
<circle cx="589.10" cy="333.50" r="3.70" fill="#000"/>
<circle cx="589.10" cy="376.60" r="3.70" fill="#000"/>
<text transform="translate(578.40,391.00) scale(0.81,1)" font-size="10.7" text-anchor="start" fill="#000" stroke="#000" stroke-width="0.12">R12</text>
<text transform="translate(378.50,386.20) scale(0.832,1)" font-size="10.7" text-anchor="start" fill="#000" stroke="#000" stroke-width="0.12">Compressor Control</text>
<text transform="translate(378.50,395.10) scale(0.845,1)" font-size="10.7" text-anchor="start" fill="#000" stroke="#000" stroke-width="0.12">Voltage Processor</text>
<rect x="288.80" y="417.90" width="309.80" height="103.60" fill="#fff" stroke="#000" stroke-width="1.1"/>
<rect x="325.20" y="450.45" width="37.40" height="36.90" fill="#fff" stroke="#000" stroke-width="1.2"/>
<circle cx="343.90" cy="468.90" r="14.55" fill="none" stroke="#000" stroke-width="1.1"/>
<circle cx="343.90" cy="468.90" r="12.05" fill="none" stroke="#000" stroke-width="0.9"/>
<line x1="343.70" y1="450.45" x2="343.70" y2="438.05" stroke="#000" stroke-width="1.1"/>
<line x1="325.20" y1="468.90" x2="318.60" y2="468.90" stroke="#000" stroke-width="1.1"/>
<line x1="362.60" y1="468.90" x2="369.20" y2="468.90" stroke="#000" stroke-width="1.1"/>
<line x1="325.20" y1="450.45" x2="313.20" y2="438.45" stroke="#000" stroke-width="1.1"/>
<line x1="325.20" y1="487.35" x2="313.20" y2="499.35" stroke="#000" stroke-width="1.1"/>
<line x1="362.60" y1="450.45" x2="374.60" y2="438.45" stroke="#000" stroke-width="1.1"/>
<line x1="362.60" y1="487.35" x2="374.60" y2="499.35" stroke="#000" stroke-width="1.1"/>
<path d="M338.20,463.50 L343.90,457.20 L349.60,463.50 Z" fill="none" stroke="#000" stroke-width="0.9"/>
<line x1="342.05" y1="458.30" x2="342.05" y2="478.40" stroke="#000" stroke-width="1.0"/>
<line x1="345.75" y1="458.30" x2="345.75" y2="478.40" stroke="#000" stroke-width="1.0"/>
<circle cx="333.80" cy="468.85" r="2.95" fill="#000"/>
<circle cx="353.90" cy="468.85" r="2.95" fill="#000"/>
<circle cx="343.80" cy="478.70" r="2.95" fill="#000"/>
<rect x="425.20" y="450.45" width="37.40" height="36.90" fill="#fff" stroke="#000" stroke-width="1.2"/>
<circle cx="443.90" cy="468.90" r="14.55" fill="none" stroke="#000" stroke-width="1.1"/>
<circle cx="443.90" cy="468.90" r="12.05" fill="none" stroke="#000" stroke-width="0.9"/>
<line x1="443.70" y1="450.45" x2="443.70" y2="438.05" stroke="#000" stroke-width="1.1"/>
<line x1="425.20" y1="468.90" x2="418.60" y2="468.90" stroke="#000" stroke-width="1.1"/>
<line x1="462.60" y1="468.90" x2="469.20" y2="468.90" stroke="#000" stroke-width="1.1"/>
<line x1="425.20" y1="450.45" x2="413.20" y2="438.45" stroke="#000" stroke-width="1.1"/>
<line x1="425.20" y1="487.35" x2="413.20" y2="499.35" stroke="#000" stroke-width="1.1"/>
<line x1="462.60" y1="450.45" x2="474.60" y2="438.45" stroke="#000" stroke-width="1.1"/>
<line x1="462.60" y1="487.35" x2="474.60" y2="499.35" stroke="#000" stroke-width="1.1"/>
<path d="M438.20,463.50 L443.90,457.20 L449.60,463.50 Z" fill="none" stroke="#000" stroke-width="0.9"/>
<line x1="442.05" y1="458.30" x2="442.05" y2="478.40" stroke="#000" stroke-width="1.0"/>
<line x1="445.75" y1="458.30" x2="445.75" y2="478.40" stroke="#000" stroke-width="1.0"/>
<circle cx="433.80" cy="468.85" r="2.95" fill="#000"/>
<circle cx="453.90" cy="468.85" r="2.95" fill="#000"/>
<circle cx="443.80" cy="478.70" r="2.95" fill="#000"/>
<rect x="525.20" y="450.45" width="37.40" height="36.90" fill="#fff" stroke="#000" stroke-width="1.2"/>
<circle cx="543.90" cy="468.90" r="14.55" fill="none" stroke="#000" stroke-width="1.1"/>
<circle cx="543.90" cy="468.90" r="12.05" fill="none" stroke="#000" stroke-width="0.9"/>
<line x1="543.70" y1="450.45" x2="543.70" y2="438.05" stroke="#000" stroke-width="1.1"/>
<line x1="525.20" y1="468.90" x2="518.60" y2="468.90" stroke="#000" stroke-width="1.1"/>
<line x1="562.60" y1="468.90" x2="569.20" y2="468.90" stroke="#000" stroke-width="1.1"/>
<line x1="525.20" y1="450.45" x2="513.20" y2="438.45" stroke="#000" stroke-width="1.1"/>
<line x1="525.20" y1="487.35" x2="513.20" y2="499.35" stroke="#000" stroke-width="1.1"/>
<line x1="562.60" y1="450.45" x2="574.60" y2="438.45" stroke="#000" stroke-width="1.1"/>
<line x1="562.60" y1="487.35" x2="574.60" y2="499.35" stroke="#000" stroke-width="1.1"/>
<path d="M538.20,463.50 L543.90,457.20 L549.60,463.50 Z" fill="none" stroke="#000" stroke-width="0.9"/>
<line x1="542.05" y1="458.30" x2="542.05" y2="478.40" stroke="#000" stroke-width="1.0"/>
<line x1="545.75" y1="458.30" x2="545.75" y2="478.40" stroke="#000" stroke-width="1.0"/>
<circle cx="533.80" cy="468.85" r="2.95" fill="#000"/>
<circle cx="553.90" cy="468.85" r="2.95" fill="#000"/>
<circle cx="543.80" cy="478.70" r="2.95" fill="#000"/>
<text transform="translate(299.00,436.20) scale(0.81,1)" font-size="10.7" text-anchor="start" fill="#000" stroke="#000" stroke-width="0.12">3:1</text>
<text transform="translate(337.90,436.20) scale(0.81,1)" font-size="10.7" text-anchor="start" fill="#000" stroke="#000" stroke-width="0.12">4:1</text>
<text transform="translate(373.10,436.20) scale(0.81,1)" font-size="10.7" text-anchor="start" fill="#000" stroke="#000" stroke-width="0.12">5:1</text>
<text transform="translate(291.90,472.60) scale(0.81,1)" font-size="10.7" text-anchor="start" fill="#000" stroke="#000" stroke-width="0.12">1.75:1</text>
<text transform="translate(373.10,472.60) scale(0.81,1)" font-size="10.7" text-anchor="start" fill="#000" stroke="#000" stroke-width="0.12">9:1</text>
<text transform="translate(365.00,487.40) scale(0.81,1)" font-size="10.7" text-anchor="start" fill="#000" stroke="#000" stroke-width="0.12">VR3</text>
<text transform="translate(299.00,508.70) scale(0.81,1)" font-size="10.7" text-anchor="start" fill="#000" stroke="#000" stroke-width="0.12">1:1</text>
<text transform="translate(374.8,508.70) scale(0.81,1)" font-size="10.7" fill="#000" stroke="#000" stroke-width="0.12"><tspan font-size="12" dy="-1.1" stroke="none">∞</tspan><tspan dy="1.1" dx="0.8">:1</tspan></text>
<text transform="translate(343.60,504.30) scale(0.835,1)" font-size="10.9" text-anchor="middle" fill="#000" stroke="#000" stroke-width="0.12">Compression</text>
<text transform="translate(343.60,512.80) scale(0.835,1)" font-size="10.9" text-anchor="middle" fill="#000" stroke="#000" stroke-width="0.12">Ratio</text>
<text transform="translate(398.80,436.20) scale(0.81,1)" font-size="10.7" text-anchor="start" fill="#000" stroke="#000" stroke-width="0.12">-20</text>
<text transform="translate(437.40,436.20) scale(0.81,1)" font-size="10.7" text-anchor="start" fill="#000" stroke="#000" stroke-width="0.12">-10</text>
<text transform="translate(474.90,436.20) scale(0.81,1)" font-size="10.7" text-anchor="start" fill="#000" stroke="#000" stroke-width="0.12">0</text>
<text transform="translate(401.30,472.60) scale(0.81,1)" font-size="10.7" text-anchor="start" fill="#000" stroke="#000" stroke-width="0.12">-30</text>
<text transform="translate(472.80,472.60) scale(0.81,1)" font-size="10.7" text-anchor="start" fill="#000" stroke="#000" stroke-width="0.12">10</text>
<text transform="translate(466.50,487.40) scale(0.81,1)" font-size="10.7" text-anchor="start" fill="#000" stroke="#000" stroke-width="0.12">VR1</text>
<text transform="translate(399.30,508.70) scale(0.81,1)" font-size="10.7" text-anchor="start" fill="#000" stroke="#000" stroke-width="0.12">-40</text>
<text transform="translate(475.40,508.70) scale(0.81,1)" font-size="10.7" text-anchor="start" fill="#000" stroke="#000" stroke-width="0.12">20</text>
<text transform="translate(443.50,504.30) scale(0.81,1)" font-size="10.7" text-anchor="middle" fill="#000" stroke="#000" stroke-width="0.12">Threshold</text>
<text transform="translate(443.50,512.80) scale(0.81,1)" font-size="10.7" text-anchor="middle" fill="#000" stroke="#000" stroke-width="0.12">(dBu)</text>
<text transform="translate(504.10,436.20) scale(0.81,1)" font-size="10.7" text-anchor="start" fill="#000" stroke="#000" stroke-width="0.12">-7</text>
<text transform="translate(541.60,436.20) scale(0.81,1)" font-size="10.7" text-anchor="start" fill="#000" stroke="#000" stroke-width="0.12">0</text>
<text transform="translate(576.40,436.20) scale(0.81,1)" font-size="10.7" text-anchor="start" fill="#000" stroke="#000" stroke-width="0.12">+7</text>
<text transform="translate(502.30,472.60) scale(0.81,1)" font-size="10.7" text-anchor="start" fill="#000" stroke="#000" stroke-width="0.12">-13</text>
<text transform="translate(573.10,472.60) scale(0.81,1)" font-size="10.7" text-anchor="start" fill="#000" stroke="#000" stroke-width="0.12">+13</text>
<text transform="translate(565.50,487.40) scale(0.81,1)" font-size="10.7" text-anchor="start" fill="#000" stroke="#000" stroke-width="0.12">VR2</text>
<text transform="translate(500.80,508.70) scale(0.81,1)" font-size="10.7" text-anchor="start" fill="#000" stroke="#000" stroke-width="0.12">-20</text>
<text transform="translate(575.90,508.70) scale(0.81,1)" font-size="10.7" text-anchor="start" fill="#000" stroke="#000" stroke-width="0.12">+20</text>
<text transform="translate(544.50,504.30) scale(0.81,1)" font-size="10.7" text-anchor="middle" fill="#000" stroke="#000" stroke-width="0.12">Gain</text>
<text transform="translate(544.50,512.80) scale(0.81,1)" font-size="10.7" text-anchor="middle" fill="#000" stroke="#000" stroke-width="0.12">(dB)</text>
</svg>
</body></html>
